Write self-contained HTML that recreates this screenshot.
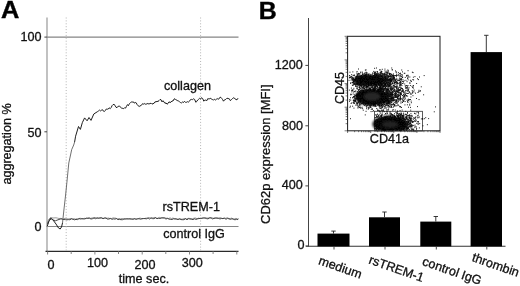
<!DOCTYPE html>
<html><head><meta charset="utf-8"><title>Figure</title>
<style>
html,body{margin:0;padding:0;background:#fff;}
body{width:520px;height:286px;overflow:hidden;}
svg{display:block;}
text{font-family:"Liberation Sans", Arial, Helvetica, sans-serif;fill:#111;stroke:#111;stroke-width:0.3px;}
.t{font-size:12.6px;}
.b{font-size:24.4px;font-weight:bold;fill:#000;stroke:#000;stroke-width:0.4px;}
</style></head><body>
<svg width="520" height="286" viewBox="0 0 520 286">
<rect width="520" height="286" fill="#fff"/>

<text class="b" transform="translate(1.1,18.1) scale(1.04,1)">A</text>
<line x1="47" y1="17.5" x2="47" y2="252" stroke="#8f8f8f" stroke-width="1.1"/>
<line x1="44.4" y1="37.1" x2="47" y2="37.1" stroke="#444" stroke-width="1"/>
<line x1="44.4" y1="131.8" x2="47" y2="131.8" stroke="#444" stroke-width="1"/>
<line x1="46.5" y1="37.1" x2="238.5" y2="37.1" stroke="#858585" stroke-width="1.1"/>
<line x1="46.5" y1="226.5" x2="238.5" y2="226.5" stroke="#858585" stroke-width="1.05"/>
<line x1="45.5" y1="251.3" x2="238.5" y2="251.3" stroke="#2a2a2a" stroke-width="1.35"/>
<line x1="47.6" y1="251.3" x2="47.6" y2="254.5" stroke="#777" stroke-width="0.9"/>
<line x1="71.2" y1="251.3" x2="71.2" y2="254.0" stroke="#777" stroke-width="0.9"/>
<line x1="94.9" y1="251.3" x2="94.9" y2="254.5" stroke="#777" stroke-width="0.9"/>
<line x1="118.5" y1="251.3" x2="118.5" y2="254.0" stroke="#777" stroke-width="0.9"/>
<line x1="142.2" y1="251.3" x2="142.2" y2="254.5" stroke="#777" stroke-width="0.9"/>
<line x1="165.8" y1="251.3" x2="165.8" y2="254.0" stroke="#777" stroke-width="0.9"/>
<line x1="189.5" y1="251.3" x2="189.5" y2="254.5" stroke="#777" stroke-width="0.9"/>
<line x1="213.1" y1="251.3" x2="213.1" y2="254.0" stroke="#777" stroke-width="0.9"/>
<line x1="236.8" y1="251.3" x2="236.8" y2="254.5" stroke="#777" stroke-width="0.9"/>
<line x1="66.2" y1="17.5" x2="66.2" y2="251" stroke="#b4b4b4" stroke-width="1" stroke-dasharray="1 1.9"/>
<line x1="200.6" y1="17.5" x2="200.6" y2="251" stroke="#b4b4b4" stroke-width="1" stroke-dasharray="1 1.9"/>
<text class="t" x="41.5" y="41.1" text-anchor="end">100</text>
<text class="t" x="41.5" y="136.6" text-anchor="end">50</text>
<text class="t" x="41.5" y="230.6" text-anchor="end">0</text>
<text class="t" transform="translate(11.3,144) rotate(-90)" text-anchor="middle">aggregation %</text>
<text class="t" x="51" y="269.4" text-anchor="middle">0</text>
<text class="t" x="97.5" y="266.6" text-anchor="middle">100</text>
<text class="t" x="145" y="269.4" text-anchor="middle">200</text>
<text class="t" x="192.2" y="266.6" text-anchor="middle">300</text>
<text class="t" x="144" y="283.4" text-anchor="middle">time sec.</text>
<text class="t" x="164" y="89.7">collagen</text>
<text class="t" x="162.6" y="211.4">rsTREM-1</text>
<text class="t" x="163.2" y="237.5">control IgG</text>
<polyline fill="none" stroke="#1e1e1e" stroke-width="1" stroke-linejoin="round" points="47.3,226.0 49.0,221.0 50.6,218.0 53.0,220.0 56.0,224.0 58.5,228.0 60.2,229.0 61.5,227.0 62.5,223.0"/>
<polyline fill="none" stroke="#4a4a4a" stroke-width="0.8" stroke-linejoin="round" points="62.5,223.0 64.0,209.0 65.6,195.0 66.9,182.3 68.8,163.0 71.7,149.6 73.7,145.0 74.6,142.0"/>
<polyline fill="none" stroke="#1e1e1e" stroke-width="1" stroke-linejoin="round" points="74.6,142.0 75.6,136.2 78.5,126.5 80.4,129.4 82.3,122.7 84.6,117.9 87.1,120.8 89.0,117.5 91.0,120.4 93.8,114.0 97.7,111.5 98.7,110.8 99.6,110.1 100.5,110.9 101.5,110.2 102.5,109.7 103.4,111.1 104.4,111.5 105.4,110.4 106.3,109.0 107.3,109.2 108.3,109.0 109.2,107.8 110.2,108.7 111.2,107.5 112.1,105.6 113.0,104.6 114.0,104.4 115.0,105.3 116.0,107.3 117.0,107.7 117.9,106.4 118.9,106.2 119.8,106.3 120.8,107.2 121.8,108.5 122.7,108.3 123.7,108.7 124.6,107.7 125.6,108.1 126.5,106.3 127.5,104.6 128.4,105.7 129.4,103.7 130.4,102.7 131.3,102.0 132.3,102.1 133.3,101.8 134.2,103.1 135.2,102.5 136.2,102.8 137.2,104.7 138.2,105.8 139.2,106.5 140.1,105.8 141.0,105.7 142.0,104.2 142.9,103.7 143.8,104.2 144.8,103.5 145.8,104.4 146.9,103.8 147.9,103.5 148.9,104.0 149.9,103.6 151.0,103.2 152.0,104.2 153.0,103.5 154.0,103.4 155.0,101.8 156.0,101.9 157.0,101.3 158.0,101.5 159.0,100.6 160.0,99.5 161.0,99.7 162.0,101.9 163.0,100.7 164.0,102.0 165.0,103.4 166.0,102.8 167.0,104.2 168.0,103.5 169.0,101.8 170.0,102.5 171.0,102.1 172.0,101.0 173.0,101.0 174.0,99.1 175.0,98.8 175.9,99.8 176.8,100.2 177.8,100.8 178.7,101.1 179.6,101.8 180.6,102.6 181.5,102.9 182.5,102.0 183.5,102.5 184.4,101.3 185.4,102.3 186.4,102.3 187.4,101.7 188.4,102.1 189.4,101.3 190.5,99.6 191.5,99.4 192.5,99.6 193.5,98.8 194.7,99.5 195.8,102.3 196.8,101.4 197.7,100.0 198.7,99.2 199.6,98.3 200.6,99.1 201.5,97.7 202.7,98.6 203.8,101.2 204.8,100.2 205.8,100.1 206.8,100.7 207.8,98.6 208.8,98.9 209.8,98.7 210.8,98.2 211.7,99.4 212.6,99.6 213.6,100.1 214.5,99.2 215.4,100.0 216.3,99.3 217.2,98.6 218.2,99.2 219.1,98.8 220.0,97.2 220.9,97.4 221.8,98.5 222.6,99.6 223.5,101.2 224.4,99.9 225.2,99.7 226.1,99.1 227.0,98.2 228.1,98.5 229.3,98.8 230.4,100.7 231.5,99.5 232.7,98.4 233.8,97.7 234.9,98.7 236.0,99.5 237.0,99.8 238.0,98.2"/>
<polyline fill="none" stroke="#8c8c8c" stroke-width="0.9" points="47.3,223.0 48.5,219.5 50.6,217.5 53.0,218.0 56.0,217.8 57.5,218.1 59.0,218.5 60.5,218.4 62.0,218.7 63.5,218.8 65.0,218.3 66.5,218.3 68.0,219.1 69.5,218.6 71.0,218.5 72.5,219.3 74.0,218.7 75.5,219.1 77.0,218.7 78.5,218.8 80.0,218.2 81.5,218.6 83.0,218.8 84.5,218.3 86.0,218.5 87.5,218.3 89.0,217.6 90.5,218.3 92.0,218.0 93.5,217.7 95.0,217.4 96.5,218.2 98.0,217.8 99.5,218.0 101.0,218.2 102.5,218.1 104.0,218.3 105.5,217.8 107.0,218.3 108.5,218.0 110.0,218.6 111.5,218.6 113.0,217.9 114.5,218.0 116.0,218.2 117.5,219.0 119.0,218.5 120.5,218.8 122.0,218.5 123.5,218.8 125.0,218.7 126.5,218.6 128.0,218.9 129.5,218.9 131.0,219.2 132.5,218.9 134.0,219.1 135.5,219.0 137.0,219.0 138.5,218.6 140.0,218.0 141.5,218.7 143.0,218.7 144.5,218.5 146.0,218.1 147.5,218.2 149.0,217.6 150.5,218.2 152.0,217.9 153.5,217.6 155.0,217.4 156.5,218.2 158.0,218.3 159.5,217.4 161.0,218.2 162.5,217.9 164.0,217.7 165.5,217.9 167.0,218.4 168.5,218.6 170.0,217.9 171.5,218.5 173.0,218.0 174.5,218.8 176.0,218.5 177.5,219.1 179.0,219.2 180.5,218.8 182.0,219.3 183.5,218.6 185.0,218.4 186.5,218.9 188.0,218.3 189.5,218.4 191.0,218.6 192.5,218.7 194.0,218.2 195.5,218.0 197.0,218.7 198.5,218.1 200.0,218.6 201.5,218.5 203.0,217.9 204.5,217.9 206.0,217.9 207.5,218.0 209.0,217.9 210.5,217.9 212.0,217.9 213.5,218.2 215.0,217.8 216.5,217.8 218.0,218.1 219.5,217.7 221.0,217.8 222.5,218.6 224.0,218.2 225.5,218.3 227.0,217.9 228.5,218.3 230.0,218.6 231.5,218.1 233.0,218.8 234.5,218.8 236.0,218.3 237.5,218.9 239.0,218.8"/>
<polyline fill="none" stroke="#333" stroke-width="0.9" points="47.5,224.0 49.0,220.5 51.5,218.8 53.5,220.0 55.4,220.8 58.0,219.8 61.0,218.8 62.5,219.3 64.0,219.5 65.5,219.6 67.0,219.8 68.5,219.6 70.0,219.8 71.5,218.7 73.0,219.2 74.5,219.8 76.0,219.4 77.5,219.6 79.0,218.6 80.5,219.0 82.0,218.7 83.5,218.9 85.0,218.9 86.5,218.1 88.0,218.3 89.5,218.3 91.0,219.0 92.5,218.7 94.0,218.0 95.5,218.7 97.0,217.9 98.5,218.4 100.0,217.9 101.5,217.7 103.0,218.8 104.5,218.0 106.0,218.1 107.5,219.1 109.0,219.0 110.5,218.4 112.0,219.3 113.5,218.9 115.0,219.1 116.5,218.6 118.0,219.6 119.5,219.4 121.0,219.7 122.5,219.7 124.0,219.0 125.5,219.1 127.0,218.9 128.5,218.9 130.0,218.8 131.5,219.0 133.0,219.3 134.5,218.5 136.0,219.3 137.5,218.8 139.0,218.7 140.5,219.2 142.0,218.7 143.5,218.5 145.0,218.6 146.5,218.8 148.0,217.9 149.5,219.0 151.0,217.8 152.5,218.6 154.0,218.7 155.5,217.7 157.0,218.7 158.5,218.2 160.0,218.5 161.5,217.8 163.0,217.9 164.5,218.1 166.0,219.1 167.5,218.3 169.0,219.1 170.5,219.4 172.0,219.5 173.5,218.8 175.0,218.9 176.5,219.2 178.0,219.5 179.5,218.8 181.0,219.6 182.5,219.7 184.0,219.7 185.5,218.7 187.0,219.8 188.5,218.7 190.0,219.0 191.5,219.3 193.0,219.6 194.5,218.8 196.0,219.4 197.5,218.9 199.0,218.5 200.5,218.4 202.0,218.2 203.5,218.0 205.0,218.0 206.5,218.6 208.0,218.9 209.5,217.9 211.0,217.8 212.5,218.9 214.0,218.4 215.5,218.2 217.0,218.1 218.5,218.5 220.0,218.9 221.5,218.5 223.0,218.5 224.5,218.2 226.0,219.3 227.5,218.3 229.0,218.9 230.5,219.4 232.0,218.7 233.5,219.4 235.0,219.8 236.5,219.4 238.0,219.6"/>
<text class="b" transform="translate(258.8,18.5) scale(1.02,1)">B</text>
<line x1="308.5" y1="18" x2="308.5" y2="246.5" stroke="#444" stroke-width="1"/>
<line x1="306" y1="246.2" x2="505.5" y2="246.2" stroke="#333" stroke-width="1.1"/>
<line x1="305.4" y1="65.4" x2="308.4" y2="65.4" stroke="#444" stroke-width="1"/>
<text class="t" x="302.8" y="69.3" text-anchor="end">1200</text>
<line x1="305.4" y1="125.8" x2="308.4" y2="125.8" stroke="#444" stroke-width="1"/>
<text class="t" x="303.0" y="130.0" text-anchor="end">800</text>
<line x1="305.4" y1="185.9" x2="308.4" y2="185.9" stroke="#444" stroke-width="1"/>
<text class="t" x="302.8" y="188.8" text-anchor="end">400</text>
<line x1="305.4" y1="246" x2="308.4" y2="246" stroke="#444" stroke-width="1"/>
<text class="t" x="304.5" y="248.5" text-anchor="end">0</text>
<text class="t" style="font-size:12.95px" transform="translate(270.4,154.2) rotate(-90)" text-anchor="middle">CD62p expression [MFI]</text>
<rect x="317.5" y="233.6" width="32.0" height="12.8" fill="#000"/>
<line x1="333.5" y1="233.6" x2="333.5" y2="231.1" stroke="#222" stroke-width="0.9"/>
<line x1="331.3" y1="231.1" x2="335.7" y2="231.1" stroke="#222" stroke-width="0.9"/>
<line x1="334.0" y1="246.5" x2="334.0" y2="249.5" stroke="#333" stroke-width="0.9"/>
<rect x="369" y="217.3" width="31.0" height="29.1" fill="#000"/>
<line x1="384.5" y1="217.3" x2="384.5" y2="212" stroke="#222" stroke-width="0.9"/>
<line x1="382.3" y1="212" x2="386.7" y2="212" stroke="#222" stroke-width="0.9"/>
<line x1="385.0" y1="246.5" x2="385.0" y2="249.5" stroke="#333" stroke-width="0.9"/>
<rect x="420.3" y="221.6" width="31.0" height="24.8" fill="#000"/>
<line x1="435.8" y1="221.6" x2="435.8" y2="216.5" stroke="#222" stroke-width="0.9"/>
<line x1="433.6" y1="216.5" x2="438.0" y2="216.5" stroke="#222" stroke-width="0.9"/>
<line x1="436.3" y1="246.5" x2="436.3" y2="249.5" stroke="#333" stroke-width="0.9"/>
<rect x="470.6" y="52.1" width="31.4" height="194.3" fill="#000"/>
<line x1="486.3" y1="52.1" x2="486.3" y2="35.3" stroke="#222" stroke-width="0.9"/>
<line x1="484.1" y1="35.3" x2="488.5" y2="35.3" stroke="#222" stroke-width="0.9"/>
<line x1="486.8" y1="246.5" x2="486.8" y2="249.5" stroke="#333" stroke-width="0.9"/>
<text class="t" transform="translate(317.8,263.9) rotate(19.2)">medium</text>
<text class="t" transform="translate(368,263.2) rotate(19.2)">rsTREM-1</text>
<text class="t" transform="translate(421.6,264.8) rotate(19.2)">control IgG</text>
<text class="t" transform="translate(471.2,260.8) rotate(19.2)">thrombin</text>
<rect x="347.6" y="36.3" width="92.4" height="94.5" fill="none" stroke="#1a1a1a" stroke-width="1"/>
<rect x="374.5" y="111.3" width="48" height="19.7" fill="none" stroke="#333" stroke-width="0.8"/>
<text class="t" transform="translate(343.6,88) rotate(-90)" text-anchor="middle">CD45</text>
<text class="t" x="369.8" y="142.9">CD41a</text>
<defs><filter id="bl" x="-20%" y="-20%" width="140%" height="140%"><feGaussianBlur stdDeviation="1.2"/></filter><clipPath id="cp"><rect x="348" y="37" width="91.5" height="93.6"/></clipPath></defs>
<g clip-path="url(#cp)"><g filter="url(#bl)">
<ellipse cx="367" cy="80.3" rx="14" ry="5.4" fill="#0c0c0c"/>
<ellipse cx="371" cy="97" rx="16" ry="8.6" fill="#111"/>
<ellipse cx="389.5" cy="124" rx="17" ry="8.2" fill="#111"/>
</g></g>
<filter id="b2"><feGaussianBlur stdDeviation="0.3"/></filter>
<path filter="url(#b2)" stroke="#0a0a0a" stroke-width="1" fill="none" d="M356.6 81.6h.9M375.5 78.6h.9M355.7 80.1h.9M371.1 84.0h.9M356.7 75.9h.9M373.0 81.9h.9M380.0 83.6h.9M366.1 79.4h.9M388.8 79.3h.9M360.3 76.4h.9M367.8 80.8h.9M364.1 80.1h.9M369.3 82.7h.9M376.3 81.0h.9M351.8 82.7h.9M354.9 79.7h.9M354.5 80.3h.9M360.4 81.0h.9M395.1 80.1h.9M374.2 75.8h.9M364.6 82.6h.9M366.2 81.6h.9M367.9 76.9h.9M371.8 77.5h.9M382.9 78.6h.9M372.8 80.3h.9M375.1 78.3h.9M375.5 79.9h.9M377.7 82.4h.9M368.2 77.6h.9M373.5 81.9h.9M381.0 79.0h.9M371.7 82.0h.9M369.4 81.0h.9M368.5 78.3h.9M358.4 79.0h.9M372.0 85.4h.9M375.3 83.9h.9M373.6 82.7h.9M368.6 82.9h.9M382.1 79.2h.9M361.1 87.0h.9M369.1 83.6h.9M374.4 76.4h.9M387.7 86.3h.9M368.5 82.9h.9M368.1 77.3h.9M366.0 81.6h.9M376.5 82.7h.9M367.5 84.9h.9M360.5 83.0h.9M376.5 79.3h.9M351.8 77.2h.9M369.0 82.1h.9M380.2 76.9h.9M367.0 82.5h.9M365.7 72.2h.9M373.9 88.2h.9M375.5 77.2h.9M363.5 81.1h.9M388.2 82.4h.9M368.0 85.6h.9M366.3 86.6h.9M361.2 78.7h.9M373.1 85.1h.9M372.6 81.3h.9M351.5 77.9h.9M361.8 78.5h.9M372.0 79.2h.9M373.7 80.6h.9M364.2 80.7h.9M370.6 83.2h.9M362.9 79.5h.9M355.4 85.8h.9M379.3 79.7h.9M362.9 76.1h.9M368.4 81.0h.9M385.5 81.1h.9M360.4 72.0h.9M379.0 80.9h.9M353.3 80.9h.9M353.3 92.1h.9M376.5 82.2h.9M365.5 73.0h.9M365.9 75.0h.9M372.1 73.0h.9M359.3 84.4h.9M381.0 76.3h.9M354.0 83.3h.9M374.3 76.9h.9M361.1 77.9h.9M356.9 78.0h.9M377.6 82.6h.9M384.5 80.0h.9M365.8 77.0h.9M365.9 75.8h.9M351.9 82.7h.9M379.2 83.1h.9M378.3 81.2h.9M360.9 80.6h.9M363.8 76.5h.9M352.6 75.3h.9M367.0 80.8h.9M363.0 85.2h.9M368.5 82.3h.9M377.4 77.5h.9M350.3 82.9h.9M361.1 84.8h.9M369.9 83.7h.9M373.5 73.2h.9M373.1 78.0h.9M360.6 78.8h.9M373.5 83.3h.9M375.6 74.7h.9M362.0 72.2h.9M366.1 82.3h.9M360.5 81.1h.9M369.0 83.7h.9M360.0 77.5h.9M360.5 86.3h.9M376.3 79.9h.9M368.9 80.7h.9M368.7 79.6h.9M364.2 76.0h.9M361.5 85.9h.9M371.6 80.5h.9M365.2 80.5h.9M370.0 78.1h.9M368.7 81.1h.9M360.6 77.6h.9M358.5 76.7h.9M374.6 72.3h.9M364.7 78.2h.9M361.7 80.6h.9M376.6 80.6h.9M365.8 78.2h.9M365.9 83.4h.9M363.7 76.4h.9M356.3 76.5h.9M355.2 84.0h.9M370.0 79.5h.9M379.4 78.1h.9M373.4 83.0h.9M353.9 75.0h.9M359.1 83.4h.9M378.0 76.1h.9M375.9 79.0h.9M363.7 78.4h.9M364.2 74.1h.9M358.5 76.1h.9M371.2 87.4h.9M390.2 79.2h.9M352.4 78.9h.9M359.0 87.0h.9M371.9 77.8h.9M375.0 82.1h.9M353.2 78.5h.9M365.0 80.4h.9M368.1 79.1h.9M368.6 78.3h.9M359.4 85.5h.9M370.1 81.8h.9M353.4 79.7h.9M374.0 75.9h.9M376.3 79.0h.9M370.4 79.8h.9M368.9 84.4h.9M363.6 85.6h.9M360.4 77.1h.9M373.0 76.7h.9M363.9 83.4h.9M377.3 74.3h.9M371.3 86.7h.9M377.2 79.5h.9M361.9 79.3h.9M357.2 79.4h.9M365.4 79.8h.9M377.1 79.5h.9M354.6 83.9h.9M357.9 78.8h.9M365.9 79.1h.9M358.5 79.5h.9M385.6 78.2h.9M365.8 84.1h.9M373.3 82.9h.9M374.3 73.6h.9M359.7 80.7h.9M371.2 84.7h.9M371.0 79.5h.9M367.3 79.6h.9M369.1 82.6h.9M364.1 77.5h.9M359.7 84.0h.9M377.9 83.7h.9M374.3 83.1h.9M367.0 82.6h.9M358.1 79.6h.9M360.8 82.8h.9M362.1 79.9h.9M370.4 84.9h.9M360.3 77.1h.9M373.9 76.5h.9M370.8 78.4h.9M366.1 74.1h.9M373.1 78.6h.9M359.4 87.4h.9M373.1 92.2h.9M370.5 79.1h.9M367.9 85.8h.9M366.8 81.8h.9M371.4 77.2h.9M368.1 78.6h.9M356.4 83.3h.9M372.7 80.6h.9M359.3 73.5h.9M371.1 80.0h.9M352.7 80.1h.9M354.1 80.2h.9M368.2 81.5h.9M368.8 80.9h.9M357.3 79.0h.9M362.7 79.5h.9M369.3 82.4h.9M380.9 71.6h.9M370.4 79.6h.9M386.3 83.5h.9M352.9 81.7h.9M362.6 83.7h.9M358.0 80.0h.9M365.9 80.0h.9M362.0 74.1h.9M370.9 83.7h.9M366.4 76.8h.9M368.7 82.2h.9M365.5 80.3h.9M379.0 76.5h.9M362.3 73.8h.9M361.1 77.8h.9M358.8 77.9h.9M382.3 79.6h.9M366.0 87.8h.9M366.5 74.4h.9M370.4 77.1h.9M380.9 76.1h.9M362.1 74.8h.9M367.8 76.8h.9M366.4 79.0h.9M361.8 83.5h.9M375.0 80.5h.9M359.3 76.7h.9M369.3 88.4h.9M363.1 77.6h.9M361.1 76.6h.9M358.7 79.6h.9M379.2 80.3h.9M362.7 74.8h.9M368.8 80.2h.9M356.6 76.6h.9M366.6 83.7h.9M372.3 81.0h.9M364.3 81.4h.9M366.9 87.7h.9M357.4 79.0h.9M377.8 79.4h.9M379.1 80.2h.9M368.2 79.0h.9M355.3 77.0h.9M385.8 82.5h.9M372.1 83.5h.9M371.8 83.8h.9M364.7 79.5h.9M375.4 79.1h.9M355.7 79.5h.9M362.4 82.4h.9M360.9 76.7h.9M364.2 85.6h.9M366.6 80.8h.9M367.1 81.3h.9M374.9 85.0h.9M353.0 84.9h.9M367.0 79.2h.9M387.4 79.7h.9M383.5 83.6h.9M358.2 82.0h.9M373.3 79.9h.9M365.4 76.5h.9M382.5 79.5h.9M363.7 79.3h.9M360.3 77.7h.9M367.8 81.4h.9M362.7 80.0h.9M355.2 82.1h.9M360.6 81.0h.9M359.3 78.5h.9M368.8 76.2h.9M388.0 80.2h.9M366.4 77.8h.9M380.6 85.0h.9M369.5 75.6h.9M362.7 82.4h.9M362.6 76.3h.9M356.9 77.7h.9M367.1 78.1h.9M367.2 89.8h.9M382.1 76.8h.9M369.9 80.6h.9M365.8 83.8h.9M364.2 79.2h.9M363.8 80.0h.9M377.9 82.9h.9M355.6 78.8h.9M360.2 83.1h.9M368.9 83.3h.9M366.5 73.8h.9M370.8 81.1h.9M371.3 75.9h.9M367.7 78.0h.9M361.2 81.5h.9M370.0 77.3h.9M352.4 71.9h.9M362.1 84.1h.9M366.5 72.6h.9M359.7 81.7h.9M381.2 84.3h.9M370.1 81.0h.9M358.0 78.8h.9M364.2 77.7h.9M367.5 79.0h.9M369.9 85.2h.9M373.3 81.7h.9M365.0 75.1h.9M366.0 82.1h.9M358.4 84.6h.9M364.2 81.6h.9M364.2 76.0h.9M384.6 76.4h.9M374.8 78.4h.9M369.4 77.6h.9M363.5 83.4h.9M383.5 77.4h.9M367.1 83.5h.9M361.6 82.7h.9M360.3 82.4h.9M370.7 84.4h.9M370.1 76.2h.9M372.6 76.6h.9M373.4 85.4h.9M372.1 78.4h.9M377.1 80.9h.9M356.4 79.1h.9M379.1 79.3h.9M368.0 79.1h.9M352.7 78.6h.9M370.0 81.0h.9M365.5 73.0h.9M377.4 82.7h.9M375.7 84.7h.9M363.2 78.2h.9M369.7 86.0h.9M352.7 79.5h.9M360.9 82.2h.9M379.4 79.3h.9M356.5 80.5h.9M364.6 75.1h.9M374.5 78.5h.9M372.8 75.8h.9M376.3 75.4h.9M376.0 74.1h.9M378.7 79.0h.9M353.8 79.5h.9M369.9 76.9h.9M362.8 81.2h.9M365.6 69.9h.9M363.3 81.8h.9M369.5 83.7h.9M361.1 89.0h.9M373.8 81.4h.9M376.2 83.5h.9M367.9 78.2h.9M375.7 81.7h.9M350.9 76.5h.9M371.0 80.7h.9M369.4 82.5h.9M368.2 85.7h.9M362.0 78.9h.9M369.7 82.8h.9M373.7 85.4h.9M362.9 84.3h.9M371.0 76.8h.9M365.8 87.4h.9M373.7 78.7h.9M361.0 80.6h.9M386.6 82.8h.9M369.7 77.1h.9M356.9 79.6h.9M363.0 90.5h.9M363.6 78.2h.9M376.6 80.6h.9M356.5 84.7h.9M364.3 75.8h.9M369.7 82.0h.9M364.1 82.7h.9M374.0 77.3h.9M349.5 72.2h.9M365.9 84.5h.9M375.5 85.0h.9M382.8 80.4h.9M376.0 75.1h.9M372.9 81.6h.9M366.2 78.8h.9M357.5 80.8h.9M377.9 79.1h.9M371.5 78.0h.9M369.2 76.9h.9M370.2 79.6h.9M369.7 78.2h.9M357.0 79.2h.9M375.8 85.7h.9M364.2 83.0h.9M373.4 81.6h.9M353.8 81.4h.9M358.8 84.3h.9M373.7 82.4h.9M372.9 76.0h.9M375.2 80.6h.9M365.4 77.9h.9M358.3 78.8h.9M393.2 81.0h.9M368.8 78.1h.9M361.8 78.4h.9M359.5 83.3h.9M364.7 83.2h.9M357.2 83.5h.9M366.8 82.6h.9M366.1 77.3h.9M377.3 78.8h.9M365.7 77.3h.9M368.7 79.0h.9M369.4 81.5h.9M361.1 75.5h.9M370.7 83.4h.9M372.9 76.4h.9M372.1 81.6h.9M369.4 81.8h.9M364.2 81.0h.9M374.9 78.6h.9M354.8 79.9h.9M368.7 74.0h.9M361.2 82.3h.9M365.7 80.6h.9M356.3 83.4h.9M381.9 79.6h.9M360.8 76.4h.9M374.6 80.7h.9M360.2 84.4h.9M373.5 82.4h.9M352.0 79.9h.9M372.3 76.1h.9M374.9 85.2h.9M375.8 77.8h.9M361.0 83.5h.9M375.5 84.5h.9M377.2 80.0h.9M363.5 74.0h.9M373.7 88.0h.9M363.1 78.7h.9M372.5 81.6h.9M355.4 77.9h.9M357.7 87.2h.9M360.9 83.2h.9M383.3 86.7h.9M379.1 85.8h.9M356.5 79.1h.9M360.8 79.3h.9M389.3 74.6h.9M371.7 76.1h.9M378.4 84.7h.9M362.6 87.3h.9M367.6 84.7h.9M369.6 78.4h.9M363.8 79.9h.9M372.2 80.7h.9M387.1 79.6h.9M363.0 77.9h.9M360.4 75.4h.9M358.6 83.4h.9M367.5 79.7h.9M370.0 83.9h.9M372.2 82.9h.9M362.2 79.4h.9M360.4 80.0h.9M360.1 79.0h.9M365.5 79.6h.9M364.7 78.6h.9M378.1 79.1h.9M358.4 81.0h.9M357.7 76.7h.9M367.7 74.6h.9M375.8 74.6h.9M359.4 82.3h.9M350.1 77.3h.9M356.8 79.6h.9M350.2 83.3h.9M365.8 81.3h.9M364.2 73.1h.9M365.7 75.7h.9M367.1 77.4h.9M364.3 79.6h.9M373.6 82.9h.9M358.5 80.2h.9M379.4 82.0h.9M360.8 79.9h.9M364.0 83.5h.9M367.3 81.6h.9M385.8 75.6h.9M358.4 74.4h.9M353.5 83.2h.9M369.5 85.8h.9M350.2 77.3h.9M379.3 83.8h.9M374.5 83.3h.9M367.3 80.3h.9M367.3 83.2h.9M365.6 81.4h.9M379.4 76.5h.9M360.6 82.2h.9M364.8 79.8h.9M384.8 81.7h.9M363.5 84.0h.9M388.4 76.5h.9M361.3 80.7h.9M361.6 87.7h.9M371.5 78.9h.9M371.2 77.6h.9M361.9 80.7h.9M387.3 72.6h.9M370.6 84.9h.9M373.3 86.8h.9M370.8 80.8h.9M365.9 77.4h.9M380.9 76.3h.9M365.9 78.5h.9M360.3 72.7h.9M363.8 80.8h.9M368.2 83.2h.9M365.6 78.1h.9M369.6 82.6h.9M359.3 75.1h.9M358.3 83.9h.9M375.5 77.3h.9M367.9 83.2h.9M378.3 78.1h.9M365.0 85.1h.9M387.5 85.5h.9M357.3 81.8h.9M364.5 80.1h.9M361.4 78.7h.9M366.9 86.4h.9M372.9 81.8h.9M367.2 77.7h.9M365.1 84.5h.9M374.1 87.0h.9M369.2 80.2h.9M353.2 81.7h.9M352.3 85.5h.9M361.6 80.3h.9M355.5 78.6h.9M359.1 84.1h.9M369.1 76.3h.9M350.6 80.1h.9M362.9 76.5h.9M372.0 79.7h.9M367.9 78.3h.9M362.2 78.7h.9M353.4 82.4h.9M370.4 74.4h.9M367.9 84.2h.9M369.0 84.7h.9M364.7 80.3h.9M356.0 77.2h.9M351.5 77.3h.9M369.1 82.1h.9M376.9 80.7h.9M358.6 81.8h.9M365.8 86.4h.9M383.6 83.6h.9M357.3 78.5h.9M368.6 77.9h.9M371.5 82.6h.9M374.1 81.1h.9M359.5 77.4h.9M366.0 84.8h.9M380.4 83.6h.9M370.1 82.6h.9M374.0 84.7h.9M374.3 75.1h.9M375.1 81.6h.9M363.1 82.1h.9M369.5 80.1h.9M352.6 80.7h.9M371.7 80.1h.9M353.5 81.9h.9M373.1 80.9h.9M370.6 79.1h.9M361.4 82.1h.9M364.0 80.9h.9M394.7 82.7h.9M368.2 74.8h.9M367.8 82.9h.9M361.0 79.5h.9M361.9 82.6h.9M378.6 79.8h.9M375.4 81.2h.9M365.3 79.3h.9M359.8 84.7h.9M374.5 76.9h.9M374.2 77.8h.9M354.2 84.4h.9M356.1 84.3h.9M368.7 83.4h.9M371.3 84.2h.9M370.0 82.3h.9M369.1 84.0h.9M363.7 83.8h.9M379.8 80.1h.9M370.7 78.6h.9M364.5 81.2h.9M364.1 77.3h.9M366.7 81.0h.9M369.7 82.7h.9M351.9 85.1h.9M365.5 77.7h.9M363.8 81.8h.9M374.4 79.1h.9M368.3 74.9h.9M368.4 79.9h.9M363.3 83.3h.9M382.2 83.8h.9M360.4 85.5h.9M364.2 80.2h.9M362.1 81.9h.9M371.7 80.8h.9M365.2 79.8h.9M363.6 83.6h.9M362.6 79.8h.9M365.2 77.8h.9M365.1 75.3h.9M370.5 82.1h.9M364.5 85.6h.9M360.0 82.2h.9M371.1 78.5h.9M365.0 83.3h.9M367.5 81.3h.9M378.9 81.0h.9M352.8 77.8h.9M374.1 79.9h.9M357.9 73.6h.9M369.7 85.4h.9M356.4 73.0h.9M371.2 78.5h.9M364.5 79.2h.9M359.4 81.8h.9M374.8 81.5h.9M362.3 83.8h.9M366.1 82.3h.9M359.1 82.5h.9M373.3 84.7h.9M367.2 81.8h.9M362.1 83.3h.9M373.6 83.9h.9M363.8 76.2h.9M366.4 79.6h.9M360.7 82.3h.9M375.0 81.6h.9M376.4 81.6h.9M358.8 78.3h.9M364.0 82.6h.9M374.8 80.8h.9M375.5 77.5h.9M366.1 85.3h.9M370.7 83.8h.9M351.2 74.7h.9M359.8 83.7h.9M380.7 78.2h.9M358.8 76.9h.9M359.5 82.2h.9M364.4 86.6h.9M373.1 78.0h.9M369.0 79.8h.9M373.6 83.3h.9M364.1 83.3h.9M371.8 80.0h.9M369.2 82.6h.9M364.4 78.0h.9M377.6 80.3h.9M362.1 81.9h.9M354.7 80.5h.9M355.6 78.9h.9M352.1 77.9h.9M374.5 79.7h.9M356.9 86.1h.9M361.8 85.3h.9M362.6 75.4h.9M382.4 78.9h.9M373.4 84.3h.9M356.1 80.6h.9M362.2 82.3h.9M366.9 76.1h.9M367.5 82.9h.9M364.6 82.2h.9M362.6 80.1h.9M370.0 80.8h.9M377.6 83.5h.9M374.1 82.7h.9M368.3 76.4h.9M375.9 86.1h.9M368.9 79.5h.9M366.8 84.3h.9M369.4 77.1h.9M365.6 77.8h.9M365.4 77.3h.9M359.8 85.3h.9M375.8 75.0h.9M358.9 78.8h.9M363.8 75.7h.9M374.4 75.0h.9M372.8 82.6h.9M364.0 78.1h.9M367.6 80.8h.9M349.6 76.2h.9M371.5 80.0h.9M363.6 77.0h.9M361.2 77.8h.9M390.3 76.2h.9M379.8 81.9h.9M368.8 81.0h.9M363.9 85.7h.9M371.3 80.2h.9M366.1 81.0h.9M357.6 79.3h.9M361.9 82.4h.9M372.1 74.1h.9M365.2 83.6h.9M356.3 76.4h.9M375.4 79.9h.9M363.3 76.3h.9M368.5 78.5h.9M368.8 81.7h.9M372.9 79.3h.9M362.7 80.4h.9M366.3 80.9h.9M362.7 79.5h.9M362.2 78.4h.9M368.4 84.2h.9M362.6 82.3h.9M369.9 80.7h.9M372.7 78.5h.9M371.8 81.3h.9M372.1 86.8h.9M358.2 80.6h.9M370.0 77.1h.9M377.1 81.8h.9M360.4 76.3h.9M363.6 88.2h.9M385.0 72.1h.9M351.9 82.5h.9M366.2 78.2h.9M372.1 80.6h.9M369.5 81.2h.9M358.0 84.7h.9M363.2 84.1h.9M372.8 80.5h.9M368.2 80.2h.9M351.7 79.2h.9M370.6 75.0h.9M354.6 83.9h.9M373.8 75.2h.9M370.9 80.2h.9M375.2 79.2h.9M365.2 77.8h.9M368.6 79.9h.9M361.6 79.2h.9M360.8 82.4h.9M358.4 75.1h.9M359.0 83.9h.9M362.8 82.5h.9M373.2 78.6h.9M373.4 82.0h.9M366.7 78.0h.9M366.5 76.0h.9M364.7 78.4h.9M370.7 81.5h.9M361.7 83.2h.9M377.0 80.5h.9M360.9 82.0h.9M371.9 87.0h.9M360.9 85.4h.9M386.6 86.6h.9M368.7 83.7h.9M365.5 78.3h.9M365.1 85.4h.9M374.1 79.3h.9M370.2 83.2h.9M371.8 80.2h.9M361.5 77.8h.9M363.4 78.5h.9M353.8 75.6h.9M374.4 76.5h.9M356.0 80.2h.9M379.2 84.6h.9M363.6 76.8h.9M362.5 77.2h.9M362.4 81.9h.9M358.1 77.7h.9M364.8 80.2h.9M360.6 77.6h.9M357.5 77.8h.9M371.4 79.5h.9M366.4 77.4h.9M364.9 70.1h.9M353.0 84.2h.9M385.1 87.7h.9M360.8 80.4h.9M373.6 76.1h.9M381.8 77.9h.9M370.0 76.4h.9M370.1 80.3h.9M376.2 76.4h.9M366.9 86.5h.9M356.9 81.5h.9M370.7 78.6h.9M364.7 85.1h.9M376.7 82.2h.9M369.3 76.5h.9M367.8 86.4h.9M375.9 75.7h.9M349.4 78.0h.9M368.4 78.4h.9M364.4 81.5h.9M374.6 81.0h.9M377.6 75.5h.9M371.0 81.7h.9M354.4 84.6h.9M353.4 75.4h.9M389.7 84.7h.9M370.2 84.9h.9M376.8 76.5h.9M371.1 85.1h.9M365.6 80.6h.9M363.1 82.8h.9M362.3 78.3h.9M356.6 77.1h.9M368.9 81.9h.9M363.7 76.7h.9M369.9 81.5h.9M377.9 78.6h.9M363.5 82.1h.9M380.0 80.1h.9M366.3 77.1h.9M363.8 83.5h.9M374.3 84.1h.9M353.0 83.2h.9M359.1 82.3h.9M359.5 84.7h.9M368.0 84.8h.9M363.2 87.0h.9M363.2 86.8h.9M362.8 76.9h.9M374.7 78.9h.9M366.5 75.7h.9M364.1 80.7h.9M361.0 81.6h.9M363.5 85.3h.9M364.0 78.1h.9M363.2 81.3h.9M372.1 78.7h.9M360.2 81.8h.9M374.1 74.3h.9M358.0 78.0h.9M381.7 84.5h.9M373.9 82.0h.9M357.4 84.2h.9M363.2 77.6h.9M383.7 75.3h.9M378.9 81.0h.9M359.1 80.9h.9M359.8 80.9h.9M361.5 76.2h.9M389.9 78.6h.9M375.5 80.1h.9M372.8 76.0h.9M358.1 69.0h.9M375.7 81.8h.9M356.9 83.2h.9M372.1 90.4h.9M369.1 83.5h.9M372.3 83.0h.9M366.8 78.9h.9M373.1 84.6h.9M357.0 76.4h.9M366.7 86.5h.9M365.2 74.5h.9M374.0 82.9h.9M383.8 81.0h.9M384.0 77.8h.9M374.8 80.8h.9M356.8 79.4h.9M378.5 84.2h.9M363.8 84.1h.9M374.8 83.4h.9M369.5 81.4h.9M359.9 80.1h.9M368.1 77.8h.9M364.6 80.9h.9M368.9 84.0h.9M358.2 79.0h.9M369.4 79.0h.9M369.9 78.7h.9M377.2 79.5h.9M357.3 82.9h.9M381.4 73.7h.9M365.9 80.6h.9M375.9 85.5h.9M365.7 75.0h.9M372.8 83.8h.9M371.0 80.6h.9M360.1 88.7h.9M356.7 75.1h.9M375.5 81.3h.9M372.8 81.5h.9M381.5 85.2h.9M362.3 83.8h.9M356.9 74.5h.9M377.4 78.8h.9M348.6 80.3h.9M361.4 82.1h.9M366.6 77.7h.9M360.9 83.0h.9M359.1 80.8h.9M358.6 81.9h.9M382.4 82.3h.9M376.6 81.9h.9M358.8 79.3h.9M367.7 81.8h.9M361.9 82.4h.9M360.9 80.5h.9M367.0 76.4h.9M375.7 80.5h.9M368.0 80.2h.9M349.0 75.5h.9M359.4 83.7h.9M362.1 82.4h.9M358.2 77.4h.9M363.0 84.0h.9M352.8 79.7h.9M370.5 80.8h.9M366.9 83.0h.9M369.5 76.9h.9M372.5 77.6h.9M364.1 85.3h.9M388.0 85.3h.9M370.7 77.7h.9M360.5 86.0h.9M369.9 75.6h.9M380.5 82.3h.9M378.4 81.7h.9M365.8 79.7h.9M380.0 78.0h.9M366.2 80.1h.9M366.3 76.8h.9M356.6 71.5h.9M369.9 79.6h.9M368.8 76.7h.9M367.1 77.0h.9M358.4 81.5h.9M372.5 82.3h.9M366.7 79.0h.9M379.0 84.6h.9M361.6 76.6h.9M370.2 81.4h.9M359.2 88.1h.9M349.1 77.5h.9M369.1 83.7h.9M351.2 78.8h.9M379.4 85.1h.9M364.9 80.4h.9M359.5 81.7h.9M358.1 73.4h.9M354.0 80.5h.9M355.7 84.1h.9M378.0 83.7h.9M372.7 84.2h.9M369.3 83.3h.9M371.1 83.0h.9M358.4 78.1h.9M358.5 83.2h.9M371.4 77.6h.9M358.6 78.3h.9M374.5 79.9h.9M365.0 78.0h.9M366.0 85.8h.9M361.2 79.1h.9M381.6 82.8h.9M357.3 84.1h.9M356.3 82.2h.9M374.9 78.3h.9M360.9 80.5h.9M367.1 78.7h.9M361.3 86.5h.9M379.8 81.5h.9M357.2 78.5h.9M364.6 82.0h.9M380.8 78.5h.9M368.3 78.9h.9M368.3 78.0h.9M370.3 84.3h.9M363.7 79.2h.9M368.0 75.8h.9M382.6 75.7h.9M364.0 77.3h.9M379.9 78.7h.9M362.7 86.8h.9M366.0 77.7h.9M367.0 81.0h.9M360.7 79.7h.9M365.3 82.8h.9M373.6 83.2h.9M366.0 83.1h.9M365.3 84.3h.9M370.5 78.9h.9M377.6 75.1h.9M358.8 77.6h.9M365.9 76.1h.9M356.8 73.9h.9M368.0 77.7h.9M385.8 83.0h.9M357.3 84.8h.9M368.0 84.0h.9M357.6 84.3h.9M376.5 78.9h.9M359.8 79.0h.9M369.3 88.6h.9M382.5 85.5h.9M365.2 79.2h.9M370.2 79.4h.9M363.1 79.6h.9M374.3 80.1h.9M369.1 79.4h.9M365.4 79.2h.9M377.9 81.1h.9M379.8 79.7h.9M376.2 75.6h.9M363.6 80.1h.9M361.6 79.9h.9M359.2 79.8h.9M361.4 80.3h.9M364.5 76.9h.9M363.6 80.4h.9M356.2 80.7h.9M377.8 79.6h.9M371.8 82.5h.9M360.2 84.8h.9M388.5 76.8h.9M385.4 77.9h.9M379.5 74.1h.9M376.8 80.8h.9M356.1 77.5h.9M358.1 77.3h.9M370.3 79.7h.9M371.1 80.6h.9M381.5 74.0h.9M369.1 80.4h.9M373.2 75.7h.9M355.9 79.7h.9M367.7 74.1h.9M370.2 80.3h.9M373.3 71.4h.9M371.4 77.3h.9M363.0 83.0h.9M381.5 80.8h.9M366.1 84.8h.9M359.4 79.8h.9M362.7 77.0h.9M368.7 87.3h.9M369.2 82.0h.9M366.8 84.2h.9M376.6 76.5h.9M375.4 86.4h.9M375.0 85.4h.9M374.8 89.0h.9M378.2 83.0h.9M378.1 83.8h.9M377.1 73.9h.9M378.5 75.1h.9M396.2 83.3h.9M374.2 83.3h.9M412.8 86.1h.9M383.5 83.0h.9M412.6 72.6h.9M379.9 81.7h.9M380.3 73.0h.9M387.7 86.4h.9M382.8 82.5h.9M394.4 76.0h.9M401.2 80.9h.9M391.4 80.4h.9M377.8 81.3h.9M381.0 78.9h.9M382.3 88.5h.9M407.5 77.2h.9M392.7 88.1h.9M388.7 85.2h.9M383.0 79.2h.9M388.7 84.8h.9M391.7 75.3h.9M389.5 78.5h.9M379.1 81.7h.9M378.9 90.1h.9M382.4 81.3h.9M376.5 81.4h.9M377.1 82.8h.9M387.0 83.7h.9M392.6 78.5h.9M375.2 75.1h.9M379.6 79.6h.9M374.8 82.0h.9M383.1 86.8h.9M389.6 77.7h.9M381.0 83.4h.9M385.2 78.6h.9M384.5 69.1h.9M393.5 81.4h.9M383.3 76.2h.9M386.9 89.5h.9M377.1 80.1h.9M375.0 76.0h.9M382.3 80.9h.9M385.2 86.2h.9M374.5 81.1h.9M378.9 87.7h.9M395.6 79.9h.9M383.1 80.7h.9M386.5 80.4h.9M385.1 80.9h.9M384.4 77.3h.9M394.5 80.9h.9M379.6 83.8h.9M388.5 76.3h.9M390.0 82.6h.9M386.9 81.0h.9M383.2 78.5h.9M400.8 76.5h.9M380.4 78.5h.9M417.1 78.8h.9M376.0 82.8h.9M375.6 77.2h.9M381.4 78.9h.9M385.4 78.9h.9M392.6 83.6h.9M384.8 84.5h.9M407.7 79.8h.9M388.4 79.6h.9M391.4 80.0h.9M376.1 85.8h.9M385.1 76.6h.9M388.7 82.7h.9M395.1 80.6h.9M385.7 79.4h.9M379.7 80.8h.9M377.2 77.3h.9M386.6 73.4h.9M374.7 89.5h.9M389.6 79.9h.9M407.9 76.1h.9M391.0 80.3h.9M381.1 88.0h.9M387.5 80.0h.9M377.2 83.0h.9M387.4 73.4h.9M407.0 78.4h.9M384.4 73.1h.9M380.3 72.7h.9M376.8 77.7h.9M378.8 76.9h.9M375.1 89.8h.9M391.6 80.7h.9M388.5 86.3h.9M399.2 73.8h.9M393.5 77.4h.9M394.2 82.4h.9M406.7 87.3h.9M382.7 77.5h.9M382.8 86.1h.9M376.0 68.0h.9M379.4 78.7h.9M374.6 78.8h.9M391.1 74.6h.9M380.5 71.7h.9M406.4 75.4h.9M385.0 76.3h.9M384.3 82.7h.9M382.6 80.5h.9M376.9 77.3h.9M388.6 74.0h.9M380.0 75.4h.9M378.6 83.3h.9M382.1 85.8h.9M387.8 70.7h.9M390.4 88.5h.9M384.4 78.2h.9M393.7 78.1h.9M399.0 78.1h.9M379.9 83.2h.9M391.0 79.3h.9M402.9 81.6h.9M390.4 78.9h.9M374.2 77.1h.9M380.0 85.5h.9M374.5 84.1h.9M378.2 80.8h.9M385.1 84.2h.9M394.1 78.0h.9M387.0 82.3h.9M375.4 85.1h.9M381.2 79.6h.9M394.6 82.5h.9M375.3 74.9h.9M396.2 72.1h.9M383.1 78.3h.9M423.7 75.6h.9M383.4 79.6h.9M374.3 78.8h.9M384.9 84.4h.9M377.2 86.9h.9M375.7 76.6h.9M376.1 74.1h.9M378.3 75.7h.9M380.3 81.0h.9M410.6 81.2h.9M377.7 79.3h.9M384.5 81.5h.9M379.3 75.9h.9M384.8 83.3h.9M396.0 76.7h.9M391.6 83.5h.9M382.5 74.8h.9M396.4 81.8h.9M377.3 81.3h.9M376.5 80.4h.9M387.2 81.9h.9M380.7 80.6h.9M401.9 77.4h.9M393.7 80.4h.9M391.0 91.1h.9M383.1 82.6h.9M379.3 88.6h.9M389.2 79.8h.9M399.0 85.1h.9M375.0 87.8h.9M378.1 75.7h.9M384.5 83.5h.9M386.3 81.1h.9M384.8 77.0h.9M382.3 87.0h.9M390.1 81.3h.9M385.8 76.8h.9M396.6 86.2h.9M399.8 78.7h.9M392.0 83.6h.9M374.5 76.7h.9M379.8 69.9h.9M386.2 74.8h.9M393.8 82.4h.9M377.7 87.4h.9M414.5 76.6h.9M386.7 85.7h.9M389.3 80.5h.9M375.0 77.0h.9M381.8 78.2h.9M412.1 87.6h.9M384.7 88.9h.9M392.3 82.0h.9M386.2 72.8h.9M389.3 83.6h.9M379.8 73.2h.9M374.2 74.7h.9M374.0 86.9h.9M391.2 77.9h.9M381.9 80.0h.9M376.3 76.6h.9M379.2 69.9h.9M376.8 85.7h.9M391.1 79.1h.9M384.3 85.3h.9M391.2 76.1h.9M380.4 87.6h.9M381.2 81.3h.9M386.9 77.1h.9M419.1 77.0h.9M407.5 75.2h.9M389.0 85.7h.9M385.1 81.7h.9M382.0 74.1h.9M380.7 76.5h.9M375.9 84.2h.9M377.0 80.0h.9M389.3 84.4h.9M381.5 83.1h.9M398.1 72.7h.9M373.8 83.0h.9M378.5 81.4h.9M380.5 73.5h.9M375.4 85.2h.9M375.0 79.3h.9M386.3 72.4h.9M379.4 86.6h.9M378.1 76.6h.9M381.4 78.1h.9M386.6 80.6h.9M399.4 82.6h.9M392.4 77.4h.9M384.4 79.8h.9M377.4 86.1h.9M396.5 88.7h.9M382.6 84.0h.9M399.3 83.1h.9M393.2 76.7h.9M380.5 83.7h.9M376.6 77.4h.9M396.3 74.1h.9M375.9 84.3h.9M377.0 86.9h.9M395.9 81.8h.9M400.4 82.9h.9M392.9 78.4h.9M377.5 80.9h.9M400.0 89.6h.9M398.0 74.8h.9M380.2 80.9h.9M396.8 80.7h.9M379.1 83.2h.9M385.3 74.4h.9M381.2 84.4h.9M378.5 85.5h.9M382.5 83.3h.9M373.9 83.8h.9M374.0 81.1h.9M381.2 85.4h.9M374.7 82.3h.9M383.4 76.2h.9M386.7 79.8h.9M392.9 75.3h.9M389.6 75.6h.9M380.1 75.5h.9M386.5 82.2h.9M390.7 79.8h.9M392.0 79.0h.9M381.4 71.4h.9M374.3 81.2h.9M375.0 81.3h.9M379.8 74.5h.9M376.0 83.0h.9M393.1 74.0h.9M383.1 74.2h.9M374.4 75.6h.9M389.0 83.2h.9M407.6 70.7h.9M398.5 75.8h.9M383.9 81.5h.9M392.3 79.0h.9M386.7 79.7h.9M385.5 76.2h.9M379.7 80.1h.9M376.3 80.2h.9M382.7 83.5h.9M378.4 78.6h.9M406.6 75.8h.9M397.2 82.7h.9M390.4 76.9h.9M381.6 84.3h.9M392.0 76.2h.9M377.2 84.8h.9M386.9 79.0h.9M392.5 77.1h.9M384.3 80.4h.9M379.6 77.7h.9M396.6 83.0h.9M392.8 89.2h.9M380.3 79.5h.9M381.4 77.6h.9M383.3 73.8h.9M374.1 78.8h.9M400.0 81.4h.9M380.2 82.4h.9M382.6 80.6h.9M411.1 81.3h.9M378.8 83.2h.9M378.3 77.8h.9M387.5 75.6h.9M377.9 79.7h.9M387.4 78.4h.9M378.9 77.3h.9M375.9 77.6h.9M413.2 79.9h.9M374.6 83.7h.9M393.3 76.8h.9M382.6 81.2h.9M374.8 83.8h.9M386.8 74.6h.9M395.9 79.1h.9M384.0 77.1h.9M377.4 75.4h.9M390.1 81.8h.9M387.6 83.5h.9M377.2 80.5h.9M388.2 79.6h.9M377.9 82.3h.9M401.6 74.6h.9M381.3 84.7h.9M399.4 79.8h.9M384.0 78.8h.9M382.7 86.5h.9M400.3 83.8h.9M383.3 80.7h.9M402.1 81.4h.9M391.9 75.1h.9M375.5 73.5h.9M400.4 82.3h.9M379.2 82.2h.9M377.3 80.5h.9M384.3 77.2h.9M377.8 80.9h.9M385.4 75.3h.9M377.4 79.6h.9M383.2 82.4h.9M376.5 82.2h.9M380.4 86.0h.9M378.3 82.5h.9M388.0 79.1h.9M385.3 84.5h.9M388.6 79.8h.9M378.0 80.4h.9M381.2 78.3h.9M374.9 80.8h.9M389.0 76.3h.9M388.4 83.3h.9M381.2 79.3h.9M391.3 84.4h.9M390.1 84.8h.9M377.4 79.6h.9M376.5 83.7h.9M373.8 72.9h.9M384.5 70.9h.9M379.7 84.1h.9M389.2 74.2h.9M405.6 87.4h.9M375.6 71.8h.9M387.0 84.5h.9M404.8 77.4h.9M401.7 75.6h.9M402.5 79.7h.9M395.1 70.9h.9M383.2 83.5h.9M381.1 79.3h.9M374.8 78.8h.9M382.2 77.6h.9M382.9 85.3h.9M379.7 84.5h.9M401.3 70.0h.9M374.9 84.3h.9M377.2 77.6h.9M379.6 77.9h.9M386.6 78.7h.9M374.5 80.3h.9M387.2 80.1h.9M381.1 93.1h.9M377.4 79.0h.9M376.1 77.2h.9M397.7 80.6h.9M395.6 72.1h.9M385.3 81.8h.9M384.2 82.3h.9M374.7 75.5h.9M377.2 78.0h.9M381.8 69.3h.9M379.8 85.8h.9M375.9 81.2h.9M382.0 81.5h.9M376.2 74.8h.9M391.8 70.0h.9M380.2 80.9h.9M390.0 81.0h.9M384.1 74.3h.9M402.0 77.3h.9M378.9 81.7h.9M376.0 79.5h.9M374.3 81.3h.9M376.7 81.6h.9M381.5 79.7h.9M396.1 75.1h.9M378.0 82.0h.9M385.3 74.0h.9M388.0 76.4h.9M399.8 75.6h.9M391.8 69.6h.9M379.8 87.3h.9M385.1 76.5h.9M390.8 80.3h.9M375.5 86.0h.9M391.7 79.6h.9M381.2 81.0h.9M391.6 75.9h.9M400.4 79.3h.9M377.9 84.8h.9M400.9 79.5h.9M400.4 85.7h.9M388.8 80.4h.9M387.8 80.5h.9M378.4 80.2h.9M378.7 81.2h.9M377.6 78.0h.9M383.1 83.7h.9M394.2 75.6h.9M385.6 81.3h.9M395.0 86.4h.9M374.3 80.9h.9M386.8 76.8h.9M379.3 81.9h.9M393.1 75.4h.9M394.5 82.4h.9M377.5 84.7h.9M377.6 79.4h.9M386.3 78.5h.9M389.9 85.8h.9M377.0 81.0h.9M383.6 76.2h.9M395.3 75.5h.9M375.0 81.5h.9M387.3 77.1h.9M384.4 89.1h.9M379.4 86.1h.9M404.3 84.0h.9M393.5 78.0h.9M384.1 86.3h.9M395.7 75.5h.9M391.0 81.2h.9M385.8 84.2h.9M402.3 77.1h.9M373.9 85.7h.9M377.5 82.6h.9M374.8 73.1h.9M381.9 83.9h.9M381.8 73.7h.9M381.1 80.6h.9M381.3 81.6h.9M381.9 75.7h.9M382.6 76.9h.9M380.1 82.1h.9M394.0 79.0h.9M389.9 84.8h.9M390.7 76.6h.9M376.4 74.5h.9M402.1 71.9h.9M391.9 83.3h.9M384.7 83.2h.9M388.2 84.6h.9M382.2 83.3h.9M389.2 73.7h.9M386.7 72.7h.9M390.0 84.0h.9M373.9 84.0h.9M395.5 84.4h.9M385.0 78.4h.9M379.2 81.7h.9M387.2 84.8h.9M378.7 79.1h.9M374.5 87.5h.9M378.4 88.8h.9M384.0 83.9h.9M377.5 83.6h.9M384.6 81.7h.9M374.3 79.2h.9M391.2 74.1h.9M378.3 82.7h.9M378.2 81.4h.9M379.1 74.6h.9M390.2 80.4h.9M384.5 77.9h.9M389.1 81.0h.9M398.1 88.9h.9M395.4 87.3h.9M387.0 75.9h.9M392.9 85.4h.9M390.0 82.9h.9M379.2 81.3h.9M381.2 81.5h.9M393.5 79.6h.9M403.8 73.3h.9M374.9 74.2h.9M399.4 81.0h.9M378.1 78.0h.9M389.0 79.2h.9M397.4 79.2h.9M381.1 75.0h.9M380.6 72.5h.9M380.8 81.5h.9M382.3 80.9h.9M386.3 79.1h.9M389.4 81.8h.9M385.0 78.7h.9M376.2 76.5h.9M389.1 73.7h.9M392.7 80.0h.9M399.8 84.7h.9M384.5 81.5h.9M376.2 74.6h.9M381.5 76.3h.9M383.8 79.7h.9M385.0 80.8h.9M377.0 78.4h.9M380.3 82.3h.9M393.2 78.8h.9M418.1 79.6h.9M381.3 76.6h.9M389.0 86.7h.9M383.1 79.7h.9M374.8 72.4h.9M383.3 79.0h.9M380.3 81.9h.9M377.6 89.3h.9M388.1 77.4h.9M383.5 83.0h.9M375.0 86.4h.9M378.7 73.0h.9M389.1 81.8h.9M387.9 80.8h.9M395.7 81.7h.9M377.0 76.6h.9M381.5 79.2h.9M388.0 81.2h.9M376.2 81.1h.9M387.7 82.2h.9M400.5 76.9h.9M386.7 80.7h.9M382.6 82.8h.9M386.9 84.3h.9M381.6 76.6h.9M377.0 82.0h.9M399.2 80.5h.9M376.7 87.0h.9M375.4 78.6h.9M378.7 83.6h.9M376.7 73.3h.9M379.2 84.6h.9M384.2 83.9h.9M377.0 77.0h.9M386.3 71.2h.9M404.4 73.3h.9M382.3 79.1h.9M383.8 79.9h.9M376.4 78.2h.9M379.1 84.5h.9M385.8 74.6h.9M383.0 88.8h.9M385.7 76.3h.9M385.5 81.2h.9M377.9 84.5h.9M392.7 77.9h.9M376.2 78.8h.9M374.5 87.2h.9M379.6 82.8h.9M378.3 80.7h.9M389.9 82.8h.9M389.5 83.2h.9M374.5 81.0h.9M380.0 76.8h.9M388.4 80.2h.9M374.4 81.7h.9M377.4 83.7h.9M376.6 80.9h.9M376.8 80.3h.9M384.1 77.3h.9M391.0 81.8h.9M380.7 80.5h.9M378.0 74.9h.9M387.6 80.2h.9M373.9 75.3h.9M381.3 72.4h.9M392.8 75.7h.9M381.5 75.9h.9M393.1 78.7h.9M401.2 78.5h.9M376.9 79.2h.9M374.1 74.4h.9M400.5 74.4h.9M390.0 81.5h.9M399.7 87.1h.9M383.7 84.8h.9M389.3 85.6h.9M398.2 80.3h.9M384.7 88.3h.9M384.5 80.2h.9M377.0 71.6h.9M375.9 76.9h.9M394.4 83.1h.9M374.4 78.8h.9M390.7 77.9h.9M390.6 81.0h.9M377.5 81.9h.9M400.1 73.2h.9M385.4 83.3h.9M377.1 86.5h.9M384.2 82.5h.9M388.1 82.6h.9M392.3 82.2h.9M406.1 76.0h.9M397.3 75.4h.9M375.3 83.4h.9M394.7 81.4h.9M384.7 77.6h.9M386.8 79.9h.9M380.3 80.4h.9M379.9 86.8h.9M376.2 79.2h.9M374.7 83.4h.9M381.1 71.3h.9M374.4 82.3h.9M412.9 77.2h.9M377.3 75.5h.9M374.3 73.0h.9M385.7 79.9h.9M395.6 78.9h.9M383.4 85.5h.9M397.9 88.8h.9M376.4 83.2h.9M409.4 77.0h.9M399.5 76.1h.9M390.0 73.6h.9M379.2 79.5h.9M377.1 72.2h.9M376.1 79.2h.9M396.3 82.4h.9M405.5 80.3h.9M390.1 79.7h.9M383.8 74.5h.9M378.8 76.4h.9M377.4 79.0h.9M393.3 75.9h.9M379.2 75.7h.9M378.4 84.7h.9M381.8 75.3h.9M374.8 80.5h.9M382.8 82.0h.9M375.3 83.2h.9M393.8 83.2h.9M393.1 76.6h.9M403.7 80.8h.9M392.7 75.6h.9M384.4 77.5h.9M376.9 81.6h.9M376.4 79.0h.9M387.6 71.5h.9M383.9 75.1h.9M387.4 70.0h.9M391.3 68.0h.9M376.3 80.4h.9M389.9 76.0h.9M387.3 75.6h.9M374.8 80.6h.9M384.0 74.9h.9M393.8 79.4h.9M389.3 74.1h.9M390.5 79.7h.9M385.8 77.5h.9M387.1 80.3h.9M401.6 90.4h.9M383.3 82.2h.9M376.3 78.5h.9M378.9 84.2h.9M388.2 84.1h.9M397.7 83.4h.9M395.8 89.8h.9M380.0 85.1h.9M374.2 81.0h.9M384.0 88.7h.9M378.3 85.0h.9M385.5 79.6h.9M379.2 79.9h.9M381.0 83.0h.9M384.1 73.4h.9M379.9 74.7h.9M390.3 74.8h.9M381.3 80.9h.9M374.2 72.2h.9M399.7 79.3h.9M384.4 84.7h.9M388.3 75.9h.9M400.0 88.1h.9M385.6 79.8h.9M388.5 79.5h.9M394.0 82.6h.9M374.4 83.3h.9M380.4 85.7h.9M383.2 85.8h.9M411.9 72.2h.9M399.7 73.6h.9M374.4 88.2h.9M390.5 83.0h.9M379.9 81.1h.9M381.2 79.5h.9M377.6 75.1h.9M400.4 79.8h.9M402.9 83.0h.9M381.1 75.6h.9M377.2 80.6h.9M375.1 79.1h.9M407.5 78.0h.9M377.1 78.3h.9M378.0 73.7h.9M386.1 86.5h.9M387.4 77.9h.9M385.7 79.5h.9M381.1 88.8h.9M388.9 85.9h.9M380.3 82.2h.9M412.4 79.6h.9M374.2 68.3h.9M378.4 79.4h.9M376.3 81.4h.9M389.7 76.1h.9M385.9 79.1h.9M374.9 83.3h.9M376.0 81.1h.9M389.4 80.2h.9M398.7 87.5h.9M384.8 87.4h.9M366.7 96.5h.9M383.8 98.3h.9M373.1 95.9h.9M368.9 93.5h.9M364.1 88.3h.9M370.0 93.3h.9M384.8 107.9h.9M389.6 91.3h.9M368.0 96.6h.9M356.8 105.1h.9M378.3 98.7h.9M389.9 99.7h.9M368.6 98.6h.9M367.0 99.7h.9M359.0 99.8h.9M368.7 95.1h.9M367.8 96.6h.9M354.9 100.3h.9M369.6 106.3h.9M371.4 102.0h.9M371.2 96.6h.9M359.9 94.9h.9M365.9 85.1h.9M368.7 93.7h.9M374.4 102.4h.9M368.6 103.2h.9M383.4 101.1h.9M368.4 97.8h.9M387.1 105.0h.9M382.4 88.6h.9M349.9 106.2h.9M378.4 104.1h.9M377.1 95.8h.9M375.9 97.1h.9M385.8 101.5h.9M362.5 93.5h.9M381.2 101.7h.9M374.3 99.0h.9M359.7 93.0h.9M376.6 88.1h.9M376.3 100.2h.9M377.8 101.6h.9M389.8 98.8h.9M363.8 88.7h.9M350.1 97.8h.9M380.1 88.9h.9M373.3 93.7h.9M369.2 98.4h.9M372.0 91.4h.9M378.8 96.6h.9M353.7 101.2h.9M386.7 95.4h.9M386.9 89.4h.9M369.2 103.9h.9M384.2 99.9h.9M381.8 95.3h.9M378.5 102.1h.9M380.7 99.2h.9M379.7 99.5h.9M377.4 89.5h.9M377.4 92.6h.9M368.0 97.6h.9M374.0 90.7h.9M366.5 98.5h.9M367.7 97.5h.9M373.8 98.4h.9M366.4 98.2h.9M377.1 90.9h.9M379.1 92.3h.9M375.1 100.4h.9M377.7 91.4h.9M362.8 91.4h.9M377.1 98.0h.9M354.4 101.0h.9M382.9 94.7h.9M370.8 98.5h.9M361.9 95.1h.9M376.9 95.6h.9M371.5 97.9h.9M388.0 98.6h.9M374.8 94.9h.9M383.4 97.6h.9M371.3 103.9h.9M384.4 92.6h.9M368.6 103.7h.9M367.1 105.2h.9M370.0 107.1h.9M362.3 87.5h.9M357.7 107.2h.9M364.6 95.1h.9M366.1 93.6h.9M373.0 97.9h.9M365.6 94.6h.9M384.3 102.1h.9M381.0 103.5h.9M369.7 101.7h.9M387.3 93.1h.9M384.5 84.9h.9M353.3 89.9h.9M362.0 92.4h.9M366.8 101.4h.9M364.5 95.4h.9M359.1 89.2h.9M369.7 93.5h.9M379.9 97.8h.9M354.2 100.9h.9M360.0 95.2h.9M361.5 93.1h.9M365.7 91.3h.9M364.4 95.8h.9M378.3 100.8h.9M388.4 89.1h.9M367.7 103.3h.9M360.6 96.4h.9M378.3 104.9h.9M376.9 98.8h.9M369.9 100.3h.9M372.3 98.9h.9M365.2 96.5h.9M363.0 91.7h.9M363.3 93.0h.9M365.0 94.3h.9M356.9 98.7h.9M374.3 104.9h.9M348.9 90.1h.9M362.1 92.8h.9M371.9 92.9h.9M364.0 100.8h.9M369.5 89.1h.9M380.3 108.4h.9M382.0 96.3h.9M384.2 96.8h.9M368.0 98.4h.9M383.6 97.7h.9M368.4 90.2h.9M373.1 91.8h.9M370.4 90.2h.9M363.0 92.3h.9M364.9 91.4h.9M383.0 101.0h.9M368.1 91.9h.9M381.7 95.9h.9M376.7 102.2h.9M367.4 99.3h.9M375.5 95.0h.9M369.6 94.0h.9M387.0 102.2h.9M397.1 97.5h.9M379.7 94.0h.9M364.2 92.8h.9M375.6 101.0h.9M353.1 100.7h.9M379.9 101.1h.9M359.1 98.1h.9M374.4 90.5h.9M360.5 108.1h.9M364.9 94.7h.9M352.7 94.0h.9M384.1 99.1h.9M363.2 97.3h.9M374.7 100.1h.9M361.8 99.0h.9M364.9 94.6h.9M363.2 93.1h.9M375.9 88.3h.9M373.1 110.7h.9M362.8 95.7h.9M370.6 104.9h.9M357.7 99.9h.9M370.3 106.9h.9M369.3 107.1h.9M362.1 98.9h.9M360.8 94.2h.9M359.4 95.1h.9M385.9 94.5h.9M394.6 105.1h.9M374.1 97.2h.9M374.2 93.4h.9M376.8 97.6h.9M352.7 97.3h.9M376.7 97.4h.9M374.1 97.1h.9M366.6 102.3h.9M384.5 95.6h.9M378.8 91.7h.9M383.0 93.0h.9M371.6 101.8h.9M366.5 97.3h.9M380.7 94.4h.9M374.4 102.5h.9M373.6 93.2h.9M367.5 95.9h.9M371.3 100.2h.9M356.5 96.7h.9M373.1 104.6h.9M357.4 92.7h.9M379.6 96.9h.9M381.5 96.9h.9M365.1 96.8h.9M382.8 100.7h.9M373.0 97.8h.9M381.3 100.2h.9M373.5 100.7h.9M372.1 91.6h.9M379.6 103.0h.9M384.2 96.8h.9M359.9 99.1h.9M365.7 87.9h.9M372.6 93.3h.9M371.8 94.7h.9M378.8 101.3h.9M375.9 102.9h.9M366.2 108.7h.9M355.0 100.7h.9M380.8 95.1h.9M372.3 91.2h.9M367.1 98.5h.9M359.3 87.5h.9M367.8 93.0h.9M362.2 96.3h.9M358.3 102.4h.9M381.9 97.2h.9M365.7 96.8h.9M370.2 93.2h.9M365.1 99.2h.9M362.7 94.0h.9M367.0 92.2h.9M373.5 90.8h.9M379.7 100.6h.9M370.9 101.2h.9M381.3 95.2h.9M370.6 94.1h.9M367.7 95.2h.9M371.9 99.6h.9M391.5 98.7h.9M379.9 95.9h.9M386.4 97.6h.9M369.5 95.7h.9M371.4 95.1h.9M372.8 105.6h.9M371.7 93.4h.9M354.0 96.5h.9M361.8 93.3h.9M372.4 98.7h.9M375.4 102.6h.9M362.3 93.8h.9M363.0 92.1h.9M365.0 92.9h.9M377.4 91.8h.9M391.3 87.0h.9M378.7 89.4h.9M366.6 91.1h.9M371.1 99.3h.9M367.2 93.8h.9M361.9 92.9h.9M363.1 93.7h.9M371.5 101.2h.9M364.5 87.2h.9M367.5 100.9h.9M361.5 98.7h.9M360.3 90.8h.9M372.9 88.0h.9M367.1 83.8h.9M361.2 98.7h.9M366.2 93.5h.9M375.7 92.4h.9M360.2 94.9h.9M370.1 97.5h.9M369.1 102.6h.9M375.9 96.2h.9M391.9 89.3h.9M373.0 93.1h.9M390.4 98.2h.9M378.3 98.8h.9M384.2 94.2h.9M379.0 88.5h.9M375.9 102.3h.9M378.7 99.7h.9M353.5 97.2h.9M367.6 104.2h.9M375.6 100.0h.9M382.7 99.4h.9M358.1 92.9h.9M351.5 102.7h.9M368.9 90.6h.9M375.2 94.8h.9M367.8 103.1h.9M351.8 89.7h.9M369.7 95.6h.9M381.0 95.1h.9M375.4 105.1h.9M358.1 89.9h.9M364.1 95.8h.9M360.5 98.0h.9M363.5 102.3h.9M375.3 100.1h.9M372.6 97.8h.9M355.7 95.7h.9M354.2 103.2h.9M360.2 92.4h.9M366.4 107.4h.9M360.4 104.9h.9M371.9 109.3h.9M368.6 94.1h.9M370.4 94.1h.9M364.0 100.2h.9M366.4 101.1h.9M376.1 101.3h.9M385.1 101.9h.9M361.9 103.3h.9M381.8 91.6h.9M382.4 87.7h.9M379.9 94.8h.9M368.0 96.0h.9M365.4 100.4h.9M370.2 96.6h.9M371.1 95.0h.9M361.3 99.7h.9M378.3 91.1h.9M379.4 102.9h.9M372.2 103.9h.9M350.7 103.5h.9M363.8 98.3h.9M362.2 108.7h.9M366.9 100.0h.9M357.2 95.4h.9M374.6 96.3h.9M363.7 104.0h.9M356.4 97.2h.9M369.1 95.0h.9M376.6 98.0h.9M369.0 100.0h.9M369.9 99.4h.9M382.4 98.0h.9M371.3 94.1h.9M383.7 101.5h.9M375.6 98.3h.9M363.0 97.2h.9M373.5 91.2h.9M361.9 96.3h.9M388.4 98.6h.9M357.3 103.0h.9M378.9 100.3h.9M365.7 96.3h.9M390.9 102.3h.9M413.0 88.0h.9M356.2 94.8h.9M362.3 93.6h.9M377.4 103.3h.9M357.6 99.6h.9M378.7 98.1h.9M383.2 102.5h.9M363.3 97.5h.9M373.3 91.1h.9M368.6 101.8h.9M374.4 97.0h.9M394.6 99.9h.9M379.6 92.7h.9M382.0 94.7h.9M369.1 94.9h.9M359.0 99.7h.9M359.4 100.9h.9M363.3 103.1h.9M373.9 102.6h.9M360.6 99.7h.9M377.7 98.3h.9M369.8 94.1h.9M359.1 91.8h.9M374.3 84.0h.9M363.7 100.3h.9M371.1 95.9h.9M363.6 97.8h.9M356.5 94.2h.9M378.3 92.4h.9M369.6 95.1h.9M359.2 87.3h.9M362.7 93.2h.9M361.2 96.6h.9M373.7 100.0h.9M374.2 91.2h.9M383.7 98.7h.9M377.7 90.7h.9M380.9 108.2h.9M375.7 102.4h.9M365.5 97.7h.9M370.4 100.2h.9M372.4 98.3h.9M362.4 91.1h.9M370.8 109.3h.9M361.7 99.6h.9M383.3 93.8h.9M355.6 98.8h.9M370.5 92.7h.9M385.0 100.4h.9M370.8 90.2h.9M382.6 102.5h.9M378.7 105.0h.9M361.3 92.1h.9M379.1 99.2h.9M370.5 94.6h.9M380.5 98.2h.9M379.1 91.4h.9M371.5 99.0h.9M380.5 88.8h.9M369.0 93.8h.9M371.0 96.3h.9M374.9 100.9h.9M373.5 96.6h.9M379.2 103.9h.9M371.6 93.1h.9M387.5 101.5h.9M391.4 95.0h.9M367.3 96.2h.9M370.1 89.8h.9M378.9 89.6h.9M361.0 98.3h.9M360.1 90.3h.9M351.7 90.8h.9M368.3 107.5h.9M377.3 93.8h.9M383.7 98.2h.9M353.4 88.3h.9M356.8 94.1h.9M371.3 94.0h.9M365.9 92.3h.9M372.6 100.9h.9M360.9 103.2h.9M363.1 95.6h.9M386.7 100.0h.9M371.4 87.5h.9M371.8 95.2h.9M368.9 102.5h.9M365.8 105.9h.9M371.5 97.8h.9M368.1 97.5h.9M383.8 98.2h.9M361.6 93.2h.9M382.0 99.7h.9M363.0 96.4h.9M371.9 99.9h.9M362.0 97.5h.9M358.8 93.2h.9M368.9 103.7h.9M370.2 105.3h.9M374.6 103.4h.9M369.5 88.1h.9M350.4 94.9h.9M387.8 96.2h.9M366.3 100.1h.9M367.5 95.1h.9M372.9 99.0h.9M365.5 93.0h.9M386.2 92.7h.9M362.5 96.1h.9M369.7 98.5h.9M385.8 103.5h.9M370.6 97.6h.9M380.2 96.4h.9M372.6 91.6h.9M374.8 96.6h.9M357.5 98.2h.9M392.0 98.7h.9M363.5 103.4h.9M374.4 98.0h.9M385.3 101.6h.9M390.8 93.0h.9M366.9 96.6h.9M372.9 91.1h.9M373.7 90.1h.9M365.7 95.8h.9M373.4 98.6h.9M363.9 98.7h.9M373.9 96.6h.9M371.3 94.5h.9M388.1 103.8h.9M373.4 103.6h.9M362.7 94.4h.9M367.9 99.2h.9M367.9 92.5h.9M356.9 91.5h.9M379.9 99.4h.9M357.7 106.3h.9M366.4 94.7h.9M369.4 97.2h.9M367.4 96.8h.9M378.3 101.5h.9M364.6 96.2h.9M363.9 94.8h.9M370.1 95.4h.9M376.6 92.4h.9M374.7 100.7h.9M368.1 95.4h.9M376.7 95.1h.9M367.9 98.0h.9M373.3 99.9h.9M358.0 94.9h.9M375.2 99.8h.9M365.4 94.7h.9M385.4 98.3h.9M382.7 90.3h.9M375.0 94.3h.9M366.3 103.3h.9M361.1 92.3h.9M364.4 95.8h.9M371.3 99.1h.9M382.7 99.3h.9M387.6 102.3h.9M376.2 96.3h.9M384.0 95.5h.9M380.3 97.2h.9M365.8 100.3h.9M377.5 98.5h.9M381.3 97.6h.9M364.1 97.4h.9M388.6 92.2h.9M353.9 97.0h.9M361.4 103.7h.9M372.5 92.4h.9M370.5 92.4h.9M375.6 101.6h.9M382.4 102.2h.9M370.9 102.9h.9M375.6 90.7h.9M383.8 92.6h.9M365.5 89.3h.9M363.2 86.6h.9M359.4 92.9h.9M359.8 95.1h.9M378.5 95.5h.9M375.1 102.5h.9M365.3 104.3h.9M370.6 96.8h.9M374.4 103.7h.9M359.6 101.6h.9M366.5 97.5h.9M361.5 84.5h.9M382.0 100.8h.9M361.1 92.5h.9M359.7 96.8h.9M390.2 96.3h.9M355.0 100.7h.9M362.5 89.1h.9M374.7 97.0h.9M372.6 100.5h.9M380.0 86.7h.9M372.6 102.7h.9M382.7 91.9h.9M353.8 91.5h.9M374.7 96.0h.9M378.7 96.1h.9M359.0 91.5h.9M368.8 101.1h.9M384.9 92.0h.9M375.2 96.7h.9M360.1 91.2h.9M385.7 94.8h.9M370.2 99.3h.9M374.4 100.4h.9M363.4 95.1h.9M373.4 98.7h.9M364.1 88.6h.9M379.1 101.2h.9M379.9 96.4h.9M354.1 95.0h.9M390.1 98.5h.9M373.4 88.9h.9M364.9 101.9h.9M374.1 96.4h.9M382.8 100.5h.9M376.2 96.2h.9M375.0 102.1h.9M374.0 90.8h.9M369.3 95.6h.9M374.9 103.3h.9M370.3 94.8h.9M378.0 99.3h.9M363.6 99.3h.9M372.8 98.7h.9M356.6 87.2h.9M356.8 88.6h.9M380.2 101.9h.9M358.8 104.3h.9M360.3 93.0h.9M391.4 90.6h.9M377.6 101.1h.9M381.5 100.3h.9M373.4 104.6h.9M370.3 97.5h.9M374.8 95.3h.9M369.7 103.0h.9M386.3 100.0h.9M370.0 94.6h.9M367.4 95.2h.9M366.9 96.6h.9M368.9 102.4h.9M357.7 95.0h.9M378.7 95.0h.9M367.2 99.8h.9M370.3 92.2h.9M372.5 100.2h.9M355.1 101.6h.9M354.9 100.5h.9M358.7 98.2h.9M370.7 102.1h.9M370.4 94.9h.9M364.0 98.1h.9M368.8 101.4h.9M375.0 103.2h.9M377.8 97.9h.9M370.5 100.1h.9M378.3 90.4h.9M374.9 95.3h.9M374.1 101.0h.9M353.0 96.5h.9M380.5 88.5h.9M373.2 97.1h.9M365.8 101.5h.9M379.8 97.2h.9M384.4 104.3h.9M373.1 101.2h.9M379.4 105.6h.9M378.8 100.5h.9M372.3 100.7h.9M386.0 96.7h.9M370.2 92.3h.9M395.4 95.2h.9M366.5 94.3h.9M382.4 98.9h.9M352.1 97.8h.9M388.5 96.9h.9M372.4 111.4h.9M369.0 96.1h.9M377.3 109.2h.9M375.4 89.1h.9M369.9 96.1h.9M378.4 95.4h.9M372.6 90.8h.9M359.4 97.5h.9M386.7 92.4h.9M356.4 103.0h.9M375.0 101.1h.9M369.7 98.4h.9M370.5 97.2h.9M388.2 95.2h.9M367.6 97.2h.9M369.7 105.6h.9M369.9 99.1h.9M359.8 99.9h.9M377.5 100.5h.9M356.3 94.1h.9M370.4 105.3h.9M389.5 102.3h.9M365.4 96.1h.9M378.8 87.5h.9M384.5 104.5h.9M379.6 95.8h.9M374.8 89.3h.9M362.4 95.0h.9M364.3 105.5h.9M375.7 85.2h.9M382.2 99.7h.9M369.2 93.6h.9M390.9 98.4h.9M373.9 89.2h.9M365.9 101.7h.9M372.6 95.0h.9M368.5 89.3h.9M357.6 89.4h.9M374.3 101.8h.9M368.1 102.7h.9M371.8 81.6h.9M386.7 91.8h.9M386.3 95.8h.9M370.7 94.8h.9M361.8 100.2h.9M387.1 103.6h.9M366.1 99.7h.9M381.3 100.1h.9M359.0 107.4h.9M364.3 93.0h.9M372.7 98.3h.9M366.0 90.6h.9M359.7 97.2h.9M353.5 102.8h.9M377.5 98.2h.9M373.3 92.8h.9M366.0 101.6h.9M366.4 105.1h.9M381.0 100.6h.9M369.1 92.5h.9M369.9 92.4h.9M367.8 95.4h.9M366.0 102.8h.9M362.9 93.4h.9M382.5 98.4h.9M376.0 94.0h.9M374.4 103.7h.9M371.5 99.3h.9M382.9 100.1h.9M383.0 91.2h.9M354.6 91.6h.9M375.4 93.8h.9M352.2 106.2h.9M383.7 94.5h.9M365.0 93.7h.9M378.1 99.4h.9M372.6 104.0h.9M363.5 91.2h.9M371.3 96.9h.9M372.2 99.2h.9M356.6 105.1h.9M354.3 98.8h.9M374.6 101.3h.9M373.4 93.0h.9M369.4 90.3h.9M369.7 96.0h.9M353.5 108.1h.9M365.6 99.9h.9M383.7 97.0h.9M367.4 91.6h.9M364.3 93.5h.9M369.8 101.1h.9M373.1 104.6h.9M375.0 98.3h.9M373.8 89.7h.9M370.7 93.6h.9M369.2 96.9h.9M368.6 96.8h.9M374.6 98.7h.9M364.9 101.7h.9M371.8 99.0h.9M387.8 105.5h.9M391.9 96.0h.9M375.2 99.5h.9M372.2 96.4h.9M379.2 102.8h.9M392.1 94.5h.9M375.6 93.4h.9M368.7 85.3h.9M391.4 89.2h.9M372.3 88.2h.9M368.0 92.0h.9M351.4 91.9h.9M369.1 96.5h.9M352.8 100.3h.9M368.2 91.5h.9M385.6 93.6h.9M373.4 104.7h.9M371.8 96.6h.9M380.3 95.0h.9M371.9 96.4h.9M367.6 100.9h.9M373.8 104.2h.9M374.9 90.1h.9M374.9 95.7h.9M368.8 101.9h.9M375.1 89.1h.9M390.3 96.4h.9M355.7 95.4h.9M375.8 91.5h.9M363.0 88.2h.9M373.7 94.5h.9M385.6 98.5h.9M373.5 94.0h.9M380.5 90.2h.9M373.8 99.5h.9M363.7 91.2h.9M382.1 106.2h.9M374.9 106.2h.9M375.5 96.2h.9M367.4 91.0h.9M379.9 94.3h.9M365.1 98.9h.9M375.8 93.4h.9M373.1 96.3h.9M372.4 96.4h.9M367.1 84.9h.9M365.5 103.0h.9M368.0 97.9h.9M376.9 92.1h.9M371.8 95.7h.9M374.6 100.1h.9M371.8 96.0h.9M380.2 97.7h.9M357.1 103.3h.9M375.4 94.1h.9M370.6 92.3h.9M372.4 89.7h.9M380.7 99.4h.9M361.7 99.6h.9M357.3 94.4h.9M361.6 100.5h.9M377.7 90.3h.9M372.8 99.6h.9M367.8 109.2h.9M356.2 103.7h.9M385.4 95.3h.9M360.3 103.1h.9M357.5 96.9h.9M365.7 90.5h.9M376.4 102.8h.9M358.1 100.3h.9M372.0 93.6h.9M366.0 99.8h.9M381.7 95.6h.9M374.8 87.3h.9M366.1 96.9h.9M368.2 98.5h.9M362.6 100.2h.9M365.4 96.4h.9M377.2 103.8h.9M361.3 96.5h.9M361.3 97.2h.9M365.4 91.0h.9M381.6 98.8h.9M371.0 103.6h.9M355.4 99.0h.9M386.3 95.2h.9M362.7 93.0h.9M382.7 102.3h.9M374.0 101.6h.9M364.6 95.0h.9M378.8 92.2h.9M373.0 96.8h.9M362.8 98.0h.9M358.8 93.7h.9M352.1 90.6h.9M362.5 98.7h.9M371.0 90.6h.9M368.5 108.2h.9M371.6 99.0h.9M350.7 94.4h.9M381.7 89.7h.9M362.3 93.2h.9M369.6 99.9h.9M354.2 100.3h.9M374.7 91.0h.9M362.7 94.2h.9M386.0 91.8h.9M379.9 106.7h.9M367.0 92.8h.9M370.7 91.8h.9M367.1 91.4h.9M356.4 88.7h.9M379.4 93.4h.9M359.6 102.2h.9M368.9 95.1h.9M363.3 96.8h.9M367.6 94.6h.9M368.9 100.6h.9M368.7 103.3h.9M379.9 91.6h.9M361.3 90.3h.9M363.2 100.3h.9M367.2 94.2h.9M371.4 85.7h.9M373.6 95.8h.9M376.8 95.2h.9M380.0 102.1h.9M367.6 99.6h.9M361.8 93.1h.9M359.9 95.6h.9M358.8 91.2h.9M368.3 89.3h.9M376.0 92.0h.9M368.0 95.1h.9M380.1 99.7h.9M368.1 93.7h.9M378.6 96.0h.9M360.3 97.3h.9M376.4 96.5h.9M370.9 104.1h.9M365.4 100.5h.9M385.3 105.2h.9M359.3 99.3h.9M371.7 108.7h.9M382.6 101.8h.9M381.7 99.5h.9M360.4 107.9h.9M354.2 100.6h.9M377.9 97.7h.9M380.1 96.6h.9M378.2 97.9h.9M363.4 101.6h.9M365.0 99.9h.9M360.4 97.9h.9M375.7 102.5h.9M360.0 94.0h.9M370.3 91.5h.9M376.2 108.6h.9M377.0 99.9h.9M362.5 99.6h.9M375.6 106.6h.9M367.1 103.0h.9M367.1 95.3h.9M366.4 98.1h.9M356.2 94.9h.9M384.7 87.6h.9M379.0 100.6h.9M366.4 92.8h.9M381.4 95.0h.9M373.4 95.6h.9M359.8 102.0h.9M376.8 92.0h.9M381.1 90.4h.9M358.2 101.1h.9M366.4 96.7h.9M385.8 91.3h.9M376.4 94.7h.9M371.4 95.6h.9M362.9 97.0h.9M361.7 96.8h.9M361.4 95.4h.9M371.8 89.7h.9M369.9 100.3h.9M371.7 101.4h.9M361.0 99.7h.9M373.5 82.9h.9M370.4 101.2h.9M369.9 96.9h.9M369.3 96.0h.9M360.5 93.3h.9M349.5 107.3h.9M370.3 97.9h.9M376.5 99.3h.9M369.8 88.8h.9M359.1 105.2h.9M374.6 100.1h.9M360.4 94.3h.9M373.1 92.8h.9M381.9 92.9h.9M366.4 90.9h.9M373.9 103.3h.9M372.5 96.7h.9M367.1 100.8h.9M370.5 105.6h.9M368.0 94.8h.9M365.5 87.2h.9M372.7 97.4h.9M355.3 90.9h.9M360.3 95.2h.9M360.8 100.6h.9M381.9 93.5h.9M370.7 91.4h.9M383.1 91.3h.9M363.0 96.8h.9M362.8 110.2h.9M368.7 95.5h.9M361.1 96.3h.9M364.7 94.6h.9M380.0 93.8h.9M374.5 93.6h.9M380.1 92.9h.9M361.3 95.5h.9M382.4 94.7h.9M362.2 96.0h.9M363.7 98.0h.9M364.0 98.3h.9M379.0 99.2h.9M384.8 98.3h.9M388.1 103.1h.9M367.9 100.6h.9M363.5 95.7h.9M369.7 92.8h.9M373.4 96.3h.9M389.4 100.6h.9M368.2 93.4h.9M365.4 93.3h.9M363.4 96.8h.9M357.7 95.2h.9M375.2 93.8h.9M359.9 94.2h.9M378.6 92.9h.9M385.2 88.4h.9M362.9 99.8h.9M383.3 95.7h.9M354.8 95.3h.9M361.9 93.3h.9M367.0 93.7h.9M370.1 97.5h.9M367.8 87.8h.9M368.8 83.7h.9M371.2 94.6h.9M361.7 107.2h.9M386.2 103.4h.9M372.6 94.3h.9M374.9 104.9h.9M369.7 96.0h.9M365.0 96.4h.9M378.4 92.2h.9M380.5 97.4h.9M391.6 97.7h.9M382.5 91.8h.9M393.4 97.2h.9M369.8 104.2h.9M372.0 90.6h.9M376.3 99.5h.9M370.4 94.4h.9M355.3 105.1h.9M366.4 98.6h.9M365.8 93.2h.9M373.2 92.4h.9M379.4 88.8h.9M376.2 102.7h.9M366.4 97.9h.9M378.4 94.6h.9M368.4 95.9h.9M396.4 92.7h.9M369.0 94.6h.9M365.4 92.2h.9M364.4 97.6h.9M381.6 104.9h.9M358.5 92.0h.9M370.3 91.9h.9M363.3 95.7h.9M365.3 92.6h.9M372.7 92.9h.9M368.1 98.4h.9M377.4 97.8h.9M380.9 97.6h.9M356.7 104.1h.9M397.6 100.8h.9M385.8 102.3h.9M366.5 99.9h.9M364.2 94.0h.9M376.0 97.3h.9M364.5 89.8h.9M378.3 96.8h.9M372.0 92.5h.9M363.4 96.6h.9M353.1 102.8h.9M370.9 102.3h.9M379.7 94.0h.9M375.5 91.3h.9M362.1 103.5h.9M365.7 93.0h.9M375.2 97.0h.9M379.9 90.5h.9M368.3 91.5h.9M371.0 95.5h.9M361.9 88.2h.9M357.9 101.5h.9M367.2 91.4h.9M372.4 91.3h.9M379.4 101.2h.9M371.1 94.0h.9M353.5 99.3h.9M389.9 97.8h.9M365.6 100.8h.9M367.1 90.8h.9M369.7 99.8h.9M353.5 102.0h.9M386.1 96.7h.9M366.2 89.8h.9M375.8 95.5h.9M382.2 104.6h.9M382.5 97.8h.9M353.6 103.4h.9M366.2 94.5h.9M380.9 99.2h.9M360.9 95.2h.9M368.0 96.1h.9M359.6 104.3h.9M369.5 100.1h.9M380.7 107.6h.9M377.6 93.3h.9M366.6 101.2h.9M386.4 89.6h.9M388.9 94.1h.9M369.0 94.7h.9M376.4 95.9h.9M370.4 92.3h.9M384.6 98.7h.9M370.4 107.5h.9M376.9 103.7h.9M368.3 97.6h.9M369.4 101.2h.9M373.5 88.5h.9M376.3 95.8h.9M373.2 101.7h.9M368.2 100.1h.9M371.0 96.5h.9M366.1 96.4h.9M367.9 100.8h.9M349.2 99.8h.9M370.1 91.7h.9M378.2 96.8h.9M376.1 103.6h.9M372.9 89.0h.9M355.8 96.6h.9M359.5 107.6h.9M370.0 88.0h.9M350.4 94.2h.9M349.1 101.3h.9M366.3 102.5h.9M359.9 94.7h.9M381.2 88.9h.9M377.2 104.1h.9M361.5 96.2h.9M386.5 104.3h.9M386.2 96.4h.9M367.4 96.1h.9M367.3 101.0h.9M378.9 99.5h.9M364.4 100.8h.9M375.6 98.1h.9M382.5 95.1h.9M372.1 102.4h.9M363.9 101.4h.9M377.9 104.4h.9M383.2 94.1h.9M387.9 94.7h.9M359.8 95.6h.9M367.7 92.5h.9M380.2 99.5h.9M376.8 90.2h.9M388.2 99.3h.9M382.0 98.8h.9M374.5 100.8h.9M372.6 103.9h.9M366.2 86.9h.9M367.7 96.9h.9M374.9 97.5h.9M375.1 99.2h.9M369.5 99.7h.9M376.3 93.2h.9M354.5 98.1h.9M375.7 102.3h.9M381.6 98.5h.9M382.1 94.2h.9M366.7 103.7h.9M359.9 96.9h.9M361.2 91.0h.9M391.1 88.3h.9M387.8 94.8h.9M364.0 88.8h.9M373.2 100.1h.9M376.6 92.5h.9M386.6 98.1h.9M376.0 100.0h.9M376.4 95.5h.9M374.5 93.5h.9M373.5 92.3h.9M357.7 94.1h.9M369.7 93.7h.9M368.3 94.3h.9M371.5 105.7h.9M376.6 101.2h.9M380.5 101.3h.9M375.1 101.2h.9M381.2 96.3h.9M368.6 97.0h.9M370.6 99.4h.9M367.0 95.0h.9M373.3 99.5h.9M370.2 89.7h.9M368.8 101.2h.9M369.0 103.2h.9M366.4 95.9h.9M378.6 102.8h.9M368.4 104.3h.9M372.9 99.0h.9M388.0 101.2h.9M369.2 96.8h.9M362.7 102.6h.9M374.5 106.3h.9M382.6 97.2h.9M365.5 95.5h.9M382.9 96.5h.9M381.8 103.1h.9M385.2 98.3h.9M377.9 90.9h.9M374.4 97.3h.9M379.9 88.5h.9M368.3 108.4h.9M372.8 94.8h.9M372.2 96.5h.9M368.1 100.1h.9M373.8 102.7h.9M394.6 100.7h.9M374.6 104.3h.9M358.3 106.0h.9M360.7 94.8h.9M371.8 90.6h.9M365.4 97.9h.9M375.1 90.3h.9M355.8 98.8h.9M375.6 101.0h.9M366.0 94.2h.9M400.0 96.6h.9M361.7 90.7h.9M368.8 105.5h.9M377.7 92.7h.9M358.3 94.1h.9M371.0 98.5h.9M375.8 102.6h.9M358.8 89.5h.9M370.4 100.0h.9M366.0 98.4h.9M370.4 102.8h.9M369.2 94.8h.9M375.9 102.0h.9M365.1 96.6h.9M364.4 91.6h.9M393.9 94.1h.9M368.2 95.5h.9M363.5 96.4h.9M370.3 99.0h.9M366.0 90.2h.9M369.9 100.6h.9M383.0 96.7h.9M368.7 93.4h.9M385.1 94.2h.9M366.4 96.9h.9M369.0 97.4h.9M375.1 105.5h.9M375.9 99.2h.9M357.5 108.0h.9M376.0 101.5h.9M368.2 96.7h.9M367.7 96.3h.9M367.4 101.0h.9M381.2 96.9h.9M368.4 101.3h.9M369.3 99.8h.9M365.1 104.0h.9M366.9 99.9h.9M387.2 99.1h.9M368.7 100.8h.9M385.5 86.2h.9M367.6 96.4h.9M379.3 89.7h.9M378.8 97.4h.9M376.5 92.1h.9M383.2 110.0h.9M372.4 100.1h.9M361.4 83.2h.9M370.5 96.0h.9M377.5 97.4h.9M358.8 86.1h.9M381.6 101.9h.9M369.9 95.9h.9M377.7 94.5h.9M359.1 103.3h.9M358.2 95.1h.9M383.4 99.5h.9M381.5 104.5h.9M373.1 89.8h.9M355.1 86.2h.9M378.2 90.0h.9M370.0 97.6h.9M374.5 97.0h.9M383.3 98.8h.9M381.3 96.7h.9M371.5 98.0h.9M375.8 101.0h.9M366.6 100.2h.9M397.4 83.8h.9M377.2 96.6h.9M369.1 94.2h.9M360.1 98.4h.9M364.4 105.0h.9M374.2 105.8h.9M372.3 90.0h.9M375.3 98.2h.9M379.3 85.2h.9M371.9 104.4h.9M372.0 86.9h.9M375.2 99.6h.9M384.5 100.0h.9M361.8 103.0h.9M377.9 103.1h.9M369.6 102.3h.9M351.3 90.4h.9M377.0 105.2h.9M376.6 98.0h.9M369.7 95.0h.9M381.8 88.2h.9M373.8 104.7h.9M355.5 85.9h.9M361.9 97.1h.9M376.4 94.3h.9M378.7 94.5h.9M355.9 102.2h.9M371.3 93.8h.9M355.6 84.4h.9M361.2 100.7h.9M362.6 90.4h.9M363.8 100.1h.9M376.9 103.3h.9M362.9 104.7h.9M386.4 99.3h.9M381.2 105.5h.9M374.9 92.8h.9M376.3 99.0h.9M377.9 110.4h.9M371.7 96.0h.9M383.1 97.3h.9M359.4 98.8h.9M380.8 89.0h.9M387.6 106.9h.9M360.6 98.4h.9M375.1 100.0h.9M374.0 100.7h.9M363.9 95.9h.9M370.4 99.4h.9M389.9 101.6h.9M361.3 99.1h.9M389.6 107.5h.9M387.6 97.7h.9M378.5 98.1h.9M360.6 97.5h.9M367.5 90.8h.9M369.9 95.2h.9M369.0 100.9h.9M361.2 97.6h.9M374.9 98.6h.9M374.0 97.6h.9M356.3 86.7h.9M365.8 95.2h.9M362.5 93.3h.9M367.5 105.8h.9M370.3 101.3h.9M377.8 98.0h.9M380.6 94.3h.9M369.6 91.2h.9M370.1 101.7h.9M362.9 96.8h.9M368.9 96.9h.9M367.4 98.6h.9M359.4 97.8h.9M387.3 91.6h.9M379.1 93.6h.9M365.9 106.3h.9M377.8 100.3h.9M387.1 100.5h.9M370.3 85.6h.9M378.1 105.8h.9M367.1 91.1h.9M354.9 100.1h.9M379.1 94.8h.9M361.2 95.7h.9M386.2 91.3h.9M363.6 99.8h.9M365.2 103.7h.9M364.3 91.0h.9M356.9 96.0h.9M381.8 97.2h.9M365.7 89.4h.9M373.7 93.7h.9M393.4 91.1h.9M358.2 90.6h.9M373.0 100.0h.9M373.4 103.0h.9M377.9 94.1h.9M387.4 93.2h.9M373.2 97.3h.9M382.2 96.9h.9M374.4 87.2h.9M370.4 97.8h.9M385.7 88.4h.9M359.7 101.3h.9M393.4 97.9h.9M350.9 88.1h.9M367.6 92.6h.9M375.9 102.4h.9M378.7 92.4h.9M364.5 96.1h.9M375.2 99.9h.9M367.4 102.3h.9M378.1 95.6h.9M373.1 105.1h.9M377.4 95.6h.9M368.0 101.9h.9M374.9 97.8h.9M364.2 95.8h.9M372.8 106.0h.9M358.8 97.7h.9M362.3 90.2h.9M393.2 90.7h.9M382.9 102.3h.9M375.7 97.4h.9M370.8 99.6h.9M375.0 100.0h.9M377.4 88.9h.9M359.0 96.9h.9M370.8 90.3h.9M380.3 99.6h.9M374.1 102.4h.9M377.2 96.5h.9M365.5 102.9h.9M366.6 93.4h.9M362.2 100.6h.9M373.7 96.3h.9M380.4 92.9h.9M379.2 94.5h.9M369.8 96.1h.9M373.4 104.1h.9M365.5 102.3h.9M383.1 96.3h.9M365.0 91.4h.9M370.6 111.6h.9M369.5 97.8h.9M362.2 99.3h.9M373.7 102.1h.9M391.3 102.2h.9M363.3 96.5h.9M358.9 95.0h.9M357.7 102.8h.9M350.3 100.1h.9M372.5 89.4h.9M378.7 103.7h.9M388.3 95.8h.9M378.5 98.1h.9M385.0 97.1h.9M381.9 92.0h.9M364.9 91.6h.9M369.5 90.8h.9M372.7 94.2h.9M357.8 98.3h.9M382.1 99.7h.9M374.5 95.9h.9M369.5 89.1h.9M390.0 88.7h.9M362.7 91.9h.9M360.9 97.9h.9M364.1 94.3h.9M374.6 91.0h.9M360.5 99.4h.9M366.4 87.8h.9M376.9 89.8h.9M371.0 97.1h.9M373.9 98.4h.9M367.2 96.9h.9M355.3 98.4h.9M353.0 100.7h.9M364.0 101.4h.9M370.5 99.6h.9M366.7 95.8h.9M375.7 100.3h.9M367.4 83.2h.9M372.4 100.6h.9M383.3 95.7h.9M381.3 79.0h.9M367.1 93.8h.9M390.9 95.8h.9M395.9 97.2h.9M366.9 94.1h.9M363.1 97.7h.9M372.5 92.0h.9M388.1 102.4h.9M368.1 99.7h.9M369.4 94.5h.9M362.9 93.7h.9M388.1 105.6h.9M369.9 95.4h.9M382.0 92.8h.9M378.2 89.3h.9M375.0 100.8h.9M379.1 105.1h.9M382.7 94.9h.9M357.9 85.2h.9M360.8 96.3h.9M365.6 111.3h.9M375.4 99.3h.9M372.3 96.1h.9M374.7 102.8h.9M371.8 101.9h.9M384.9 98.2h.9M378.0 98.9h.9M382.8 101.6h.9M373.5 103.2h.9M383.0 98.3h.9M359.6 106.1h.9M373.8 100.9h.9M373.3 95.7h.9M360.1 97.3h.9M369.5 99.9h.9M368.7 97.0h.9M378.8 97.2h.9M365.7 99.7h.9M368.6 92.0h.9M361.2 92.8h.9M365.6 85.8h.9M357.4 94.1h.9M384.2 95.6h.9M387.9 89.5h.9M402.6 97.1h.9M415.0 93.2h.9M393.3 99.0h.9M405.9 85.5h.9M380.7 90.1h.9M400.8 99.0h.9M391.9 91.5h.9M384.3 88.8h.9M388.5 94.6h.9M380.9 101.5h.9M382.0 96.5h.9M380.6 100.9h.9M387.6 87.6h.9M381.2 99.5h.9M390.2 86.7h.9M393.6 87.8h.9M381.6 95.8h.9M387.1 84.0h.9M385.9 101.6h.9M419.5 91.2h.9M390.4 84.8h.9M395.4 106.0h.9M383.0 92.8h.9M402.0 88.6h.9M406.3 87.5h.9M386.2 98.3h.9M381.8 93.1h.9M393.9 104.5h.9M385.9 90.7h.9M398.4 100.1h.9M399.7 94.7h.9M385.0 100.2h.9M386.5 104.1h.9M380.6 92.4h.9M379.4 88.4h.9M395.1 92.0h.9M380.8 97.4h.9M400.1 92.7h.9M409.2 83.0h.9M383.9 93.5h.9M388.4 91.0h.9M413.7 90.1h.9M382.7 97.7h.9M400.0 97.7h.9M399.5 95.3h.9M387.7 103.6h.9M387.0 98.5h.9M379.7 92.4h.9M395.0 101.3h.9M413.5 92.0h.9M396.1 88.6h.9M387.3 96.3h.9M394.7 91.6h.9M380.5 95.5h.9M382.7 94.9h.9M378.8 94.3h.9M404.3 95.3h.9M405.3 93.3h.9M381.1 91.6h.9M390.7 89.8h.9M398.8 95.3h.9M392.4 97.7h.9M380.4 87.8h.9M412.5 91.4h.9M380.9 93.9h.9M396.2 95.1h.9M386.8 82.9h.9M379.3 97.8h.9M406.6 81.7h.9M389.3 103.1h.9M389.7 100.0h.9M393.6 88.2h.9M390.2 92.4h.9M395.0 95.6h.9M396.6 94.5h.9M412.9 85.5h.9M404.0 96.4h.9M392.0 100.4h.9M382.8 94.7h.9M398.9 90.4h.9M389.4 102.3h.9M385.5 98.5h.9M379.7 111.8h.9M390.8 89.9h.9M388.3 84.8h.9M379.2 90.6h.9M391.4 94.3h.9M410.0 99.5h.9M391.3 98.6h.9M386.3 91.9h.9M381.2 96.0h.9M388.2 101.5h.9M396.1 86.9h.9M400.7 87.8h.9M396.9 112.9h.9M394.7 97.4h.9M380.5 97.9h.9M392.4 114.7h.9M392.1 94.6h.9M403.2 94.5h.9M398.5 96.8h.9M382.0 101.5h.9M380.7 92.6h.9M379.6 97.4h.9M384.1 101.2h.9M383.7 98.3h.9M383.8 97.9h.9M389.3 94.0h.9M382.3 98.3h.9M382.3 92.9h.9M391.4 98.5h.9M407.2 86.8h.9M397.9 96.8h.9M407.6 100.1h.9M378.9 92.3h.9M383.3 93.4h.9M390.8 96.3h.9M389.0 94.0h.9M389.7 94.6h.9M385.9 96.6h.9M382.5 90.0h.9M400.6 94.1h.9M378.9 101.0h.9M399.6 100.6h.9M380.5 89.9h.9M387.6 93.1h.9M398.9 92.1h.9M383.4 90.9h.9M399.4 90.3h.9M403.4 92.4h.9M382.2 107.5h.9M386.1 103.1h.9M388.1 101.0h.9M381.4 95.7h.9M385.7 103.5h.9M391.1 87.8h.9M387.9 86.9h.9M385.5 94.1h.9M390.3 94.4h.9M396.4 95.5h.9M395.2 94.2h.9M379.9 88.2h.9M397.0 97.0h.9M400.4 94.2h.9M388.2 109.0h.9M395.5 82.6h.9M390.1 89.1h.9M396.7 96.7h.9M391.0 106.9h.9M410.1 107.4h.9M387.2 101.8h.9M388.6 92.6h.9M382.5 95.3h.9M383.4 94.4h.9M399.3 86.1h.9M384.3 86.3h.9M386.1 103.7h.9M401.6 98.6h.9M381.0 92.6h.9M384.7 97.3h.9M390.1 87.4h.9M397.8 98.2h.9M385.4 93.6h.9M388.6 93.3h.9M384.8 96.6h.9M379.0 92.9h.9M388.8 90.8h.9M402.6 100.3h.9M382.3 99.6h.9M391.3 95.9h.9M395.6 97.0h.9M384.0 95.2h.9M409.9 94.1h.9M400.0 99.4h.9M394.5 90.3h.9M379.2 92.5h.9M382.9 103.9h.9M418.4 91.6h.9M381.0 105.6h.9M382.1 102.4h.9M388.3 116.2h.9M391.1 100.4h.9M403.5 100.8h.9M402.8 100.6h.9M379.3 101.5h.9M392.1 97.2h.9M392.3 94.0h.9M390.8 104.8h.9M381.8 107.1h.9M407.5 91.5h.9M403.9 97.2h.9M385.1 85.6h.9M384.9 95.0h.9M387.4 88.7h.9M404.1 95.4h.9M384.6 101.9h.9M400.2 85.0h.9M409.8 93.1h.9M379.8 103.4h.9M395.1 94.3h.9M391.2 98.6h.9M391.8 93.1h.9M401.5 85.6h.9M411.9 92.4h.9M380.7 96.7h.9M409.9 85.5h.9M383.9 102.0h.9M396.5 105.7h.9M397.1 91.9h.9M404.9 86.8h.9M397.4 94.3h.9M391.4 97.6h.9M399.8 93.1h.9M385.1 96.4h.9M381.5 95.3h.9M388.8 96.7h.9M386.9 99.0h.9M381.2 103.4h.9M386.9 99.4h.9M379.9 94.0h.9M387.4 90.8h.9M384.7 106.8h.9M388.8 100.2h.9M388.0 96.1h.9M394.8 92.6h.9M397.0 98.5h.9M385.9 98.2h.9M392.3 88.9h.9M391.1 107.0h.9M382.8 103.2h.9M385.0 84.4h.9M386.7 113.6h.9M381.5 101.5h.9M397.8 94.4h.9M394.9 93.6h.9M380.7 92.1h.9M399.3 98.7h.9M387.5 93.1h.9M389.0 101.5h.9M380.6 104.2h.9M388.8 94.3h.9M393.9 84.0h.9M392.5 96.0h.9M392.6 100.9h.9M386.8 91.1h.9M379.5 108.6h.9M389.2 102.7h.9M380.4 89.4h.9M384.0 104.6h.9M390.1 103.8h.9M386.2 85.4h.9M379.7 93.7h.9M381.4 105.9h.9M399.4 84.9h.9M383.5 97.3h.9M382.8 97.5h.9M391.5 94.4h.9M410.5 97.0h.9M391.3 98.0h.9M382.1 87.3h.9M386.1 111.9h.9M405.0 98.1h.9M397.7 99.3h.9M383.6 95.9h.9M396.9 91.7h.9M398.5 93.3h.9M379.2 100.3h.9M387.1 94.9h.9M401.0 107.5h.9M382.8 100.4h.9M387.2 89.7h.9M389.8 92.8h.9M379.4 90.5h.9M412.2 93.1h.9M383.6 102.2h.9M395.3 96.5h.9M397.9 89.9h.9M391.4 103.0h.9M385.5 90.6h.9M380.0 101.6h.9M384.5 94.4h.9M381.7 101.8h.9M387.9 86.5h.9M386.8 95.2h.9M381.8 98.4h.9M395.3 95.2h.9M384.5 92.4h.9M380.0 100.3h.9M396.0 101.4h.9M391.2 94.0h.9M386.9 99.8h.9M379.7 93.0h.9M407.2 93.5h.9M379.1 97.4h.9M380.6 95.1h.9M387.2 89.7h.9M395.5 99.6h.9M403.4 95.7h.9M380.8 95.3h.9M384.3 108.2h.9M381.4 100.0h.9M393.9 77.6h.9M388.4 95.7h.9M380.1 97.5h.9M388.5 99.8h.9M403.0 92.0h.9M384.9 102.1h.9M387.0 95.1h.9M387.7 97.5h.9M379.9 98.5h.9M418.5 90.3h.9M394.4 96.6h.9M405.4 90.4h.9M407.1 101.6h.9M390.2 94.5h.9M411.6 86.3h.9M394.1 113.7h.9M401.0 94.7h.9M391.0 99.3h.9M384.2 92.9h.9M393.4 94.4h.9M402.4 90.2h.9M387.5 105.1h.9M381.4 86.0h.9M384.3 101.6h.9M392.7 92.2h.9M397.7 96.5h.9M379.0 93.5h.9M380.4 100.0h.9M388.7 95.5h.9M387.8 94.3h.9M402.8 98.0h.9M379.9 99.4h.9M381.4 106.4h.9M399.7 107.1h.9M385.7 100.7h.9M392.1 95.8h.9M380.6 99.6h.9M403.5 94.1h.9M408.0 107.2h.9M388.8 91.9h.9M386.7 100.0h.9M392.6 99.6h.9M404.7 92.0h.9M381.9 97.4h.9M390.5 92.6h.9M383.4 83.9h.9M380.4 100.7h.9M381.0 91.5h.9M379.3 96.9h.9M392.6 92.2h.9M381.1 100.7h.9M407.4 88.2h.9M383.5 101.6h.9M385.9 101.1h.9M406.9 104.8h.9M392.8 96.2h.9M398.3 92.5h.9M390.6 104.5h.9M386.3 97.8h.9M387.3 93.9h.9M388.4 82.2h.9M390.8 105.0h.9M381.0 91.1h.9M385.7 94.6h.9M420.0 90.8h.9M408.9 92.0h.9M396.3 100.5h.9M402.1 95.5h.9M380.9 86.9h.9M379.2 92.6h.9M393.9 86.4h.9M378.8 93.1h.9M381.0 96.4h.9M399.9 93.2h.9M379.2 105.4h.9M386.0 103.6h.9M385.4 84.3h.9M400.5 93.8h.9M396.1 93.5h.9M380.9 98.1h.9M409.7 83.1h.9M383.2 93.0h.9M385.6 93.4h.9M390.3 105.8h.9M380.7 96.4h.9M382.9 86.9h.9M381.3 93.4h.9M393.2 103.9h.9M381.2 100.4h.9M387.7 96.6h.9M379.3 100.6h.9M380.2 99.7h.9M390.2 98.8h.9M384.6 99.4h.9M383.3 97.9h.9M379.9 98.7h.9M379.1 93.8h.9M386.6 96.9h.9M395.2 80.0h.9M380.4 94.3h.9M381.6 100.2h.9M383.3 94.8h.9M380.7 86.1h.9M386.5 90.5h.9M390.7 98.7h.9M388.5 90.1h.9M383.0 90.1h.9M389.7 88.8h.9M380.6 103.3h.9M382.3 110.5h.9M393.1 97.4h.9M397.1 98.8h.9M396.4 100.9h.9M386.7 99.9h.9M380.9 99.0h.9M383.9 96.5h.9M397.3 89.7h.9M396.8 91.6h.9M394.2 93.4h.9M391.4 94.0h.9M387.5 103.5h.9M389.8 79.3h.9M395.7 90.6h.9M384.0 104.1h.9M394.1 106.0h.9M379.1 90.9h.9M392.6 107.4h.9M384.2 97.4h.9M386.3 90.5h.9M400.5 103.1h.9M381.0 100.7h.9M389.8 95.0h.9M386.8 102.1h.9M396.7 91.6h.9M404.4 99.3h.9M408.6 87.8h.9M405.4 96.1h.9M382.4 86.9h.9M381.7 87.6h.9M387.8 110.0h.9M381.7 92.2h.9M388.1 95.2h.9M380.5 105.5h.9M379.8 97.5h.9M393.9 89.6h.9M381.6 95.9h.9M381.4 99.7h.9M401.9 88.9h.9M388.3 101.8h.9M386.4 88.2h.9M397.2 96.0h.9M379.9 99.0h.9M388.4 102.2h.9M397.9 105.2h.9M379.2 97.9h.9M392.1 88.3h.9M379.2 90.2h.9M398.0 90.3h.9M403.0 90.1h.9M381.0 103.3h.9M384.3 104.9h.9M391.3 100.2h.9M384.9 99.3h.9M399.0 89.6h.9M383.2 99.2h.9M394.3 89.7h.9M405.5 90.8h.9M402.3 90.8h.9M407.5 85.5h.9M395.3 92.4h.9M382.2 101.9h.9M386.3 99.9h.9M380.0 100.8h.9M393.8 100.3h.9M403.5 98.9h.9M384.0 82.2h.9M384.7 94.8h.9M397.3 83.2h.9M385.7 98.0h.9M387.9 96.6h.9M407.7 89.9h.9M379.5 97.4h.9M402.1 102.4h.9M387.2 103.4h.9M388.6 101.0h.9M402.1 83.5h.9M393.0 98.1h.9M384.6 85.7h.9M387.1 92.5h.9M389.3 96.7h.9M408.2 89.2h.9M395.8 90.8h.9M397.1 102.1h.9M395.3 94.0h.9M390.1 89.8h.9M379.4 110.5h.9M392.6 98.6h.9M396.0 91.5h.9M386.5 98.9h.9M395.9 102.7h.9M387.3 88.2h.9M392.3 93.8h.9M383.1 105.1h.9M399.8 90.7h.9M396.2 86.1h.9M399.8 96.1h.9M379.2 106.4h.9M384.9 85.4h.9M383.9 102.1h.9M394.0 105.3h.9M384.0 88.8h.9M402.0 91.6h.9M387.7 97.2h.9M403.4 91.5h.9M397.9 95.3h.9M381.5 101.1h.9M399.5 98.0h.9M383.1 92.1h.9M384.1 102.7h.9M383.9 106.7h.9M378.8 101.8h.9M403.2 101.5h.9M380.3 93.8h.9M381.7 98.3h.9M389.3 88.0h.9M384.7 100.8h.9M381.4 95.1h.9M381.9 85.0h.9M386.0 91.7h.9M380.8 82.7h.9M398.1 91.9h.9M406.4 85.7h.9M400.5 93.3h.9M386.3 96.5h.9M394.3 95.9h.9M386.0 89.7h.9M379.1 101.1h.9M378.7 88.9h.9M379.8 92.8h.9M385.6 97.3h.9M385.1 101.5h.9M384.3 111.7h.9M392.8 100.2h.9M404.7 101.6h.9M402.1 102.1h.9M384.3 101.8h.9M395.8 100.4h.9M398.6 99.1h.9M390.4 94.8h.9M392.5 87.7h.9M409.0 99.5h.9M397.6 87.2h.9M390.8 93.1h.9M389.6 100.7h.9M398.2 90.4h.9M398.0 101.7h.9M384.5 89.9h.9M396.7 85.0h.9M402.1 99.7h.9M402.4 89.9h.9M383.5 93.6h.9M386.1 103.9h.9M385.8 100.6h.9M394.8 95.4h.9M394.0 95.4h.9M381.7 102.6h.9M381.4 95.9h.9M387.4 102.8h.9M393.8 102.7h.9M382.3 98.3h.9M399.9 89.4h.9M391.2 89.1h.9M381.6 100.0h.9M400.0 98.1h.9M395.8 97.0h.9M410.7 101.1h.9M379.6 103.1h.9M390.9 81.5h.9M389.7 100.9h.9M387.9 90.0h.9M386.3 99.2h.9M379.2 97.3h.9M407.9 99.2h.9M392.8 85.4h.9M383.2 102.0h.9M383.1 95.8h.9M391.6 98.1h.9M379.5 87.4h.9M417.6 92.5h.9M404.8 85.7h.9M386.9 93.7h.9M390.4 95.6h.9M401.3 88.7h.9M396.0 100.7h.9M394.5 87.0h.9M390.6 102.4h.9M390.8 100.0h.9M387.7 100.6h.9M393.7 99.6h.9M392.7 100.5h.9M399.4 99.3h.9M395.4 96.9h.9M404.8 94.6h.9M401.8 91.0h.9M394.7 97.3h.9M378.8 94.5h.9M389.2 101.6h.9M386.3 102.4h.9M383.5 99.3h.9M392.2 92.1h.9M391.7 101.2h.9M381.5 104.7h.9M388.6 105.0h.9M379.5 96.6h.9M391.6 104.7h.9M392.0 104.8h.9M400.7 83.9h.9M378.8 90.4h.9M384.9 96.7h.9M381.8 101.4h.9M386.4 85.8h.9M396.0 87.5h.9M398.0 98.8h.9M380.2 97.7h.9M409.0 92.1h.9M411.0 94.0h.9M387.3 99.3h.9M387.2 101.7h.9M381.3 99.5h.9M392.9 109.8h.9M381.6 90.3h.9M380.3 104.1h.9M389.0 103.5h.9M382.6 105.2h.9M379.9 91.8h.9M382.1 104.6h.9M406.4 88.5h.9M385.0 89.9h.9M405.0 94.8h.9M385.4 94.9h.9M384.1 98.6h.9M391.2 86.2h.9M381.9 95.1h.9M380.9 97.4h.9M388.8 86.4h.9M385.8 105.7h.9M386.6 97.3h.9M388.0 94.1h.9M399.4 83.2h.9M380.3 90.0h.9M392.3 98.4h.9M393.4 104.6h.9M403.9 93.1h.9M389.5 96.5h.9M379.0 100.1h.9M382.0 89.4h.9M409.3 105.2h.9M387.9 100.5h.9M380.7 101.8h.9M378.8 104.5h.9M393.4 98.9h.9M385.7 91.3h.9M392.7 90.9h.9M397.7 92.4h.9M391.5 93.2h.9M382.2 100.6h.9M381.7 93.9h.9M385.9 108.0h.9M400.2 98.6h.9M386.9 98.9h.9M406.6 90.1h.9M380.5 100.1h.9M384.1 95.6h.9M391.2 93.9h.9M380.6 98.7h.9M397.8 95.7h.9M394.9 102.3h.9M406.3 93.3h.9M405.2 88.2h.9M391.4 97.9h.9M388.6 91.1h.9M389.5 97.2h.9M382.7 98.9h.9M400.6 84.5h.9M390.3 95.3h.9M380.4 99.4h.9M400.6 101.9h.9M386.8 101.1h.9M386.4 105.4h.9M392.0 110.1h.9M412.5 95.7h.9M392.3 99.3h.9M389.7 95.9h.9M394.3 91.6h.9M407.8 90.6h.9M393.8 85.4h.9M387.9 99.6h.9M382.8 103.9h.9M381.0 110.1h.9M382.4 102.6h.9M389.4 99.0h.9M383.0 89.5h.9M382.6 91.0h.9M393.3 85.4h.9M407.5 102.5h.9M388.2 94.1h.9M407.4 90.1h.9M382.6 109.1h.9M387.7 107.0h.9M404.5 104.9h.9M389.1 91.7h.9M399.4 95.6h.9M390.1 93.7h.9M392.1 92.4h.9M389.1 95.1h.9M380.8 89.1h.9M400.2 106.6h.9M380.0 100.2h.9M381.3 90.3h.9M384.0 90.3h.9M401.1 91.4h.9M384.9 93.7h.9M391.7 100.3h.9M393.8 104.6h.9M386.2 101.2h.9M388.9 98.5h.9M386.3 100.0h.9M381.5 101.6h.9M379.8 93.7h.9M400.3 94.6h.9M406.1 95.8h.9M379.1 92.3h.9M384.0 97.3h.9M381.7 95.4h.9M394.1 90.2h.9M387.5 90.4h.9M394.6 97.5h.9M378.9 94.1h.9M380.6 104.0h.9M396.4 99.6h.9M409.3 104.2h.9M386.2 110.0h.9M405.9 95.5h.9M388.5 99.1h.9M407.9 100.3h.9M390.7 101.3h.9M383.0 89.6h.9M388.4 72.8h.9M382.3 92.1h.9M387.2 103.2h.9M378.7 79.4h.9M393.6 86.6h.9M396.9 88.9h.9M397.2 87.0h.9M383.7 100.4h.9M410.9 102.7h.9M389.4 106.5h.9M385.1 105.8h.9M409.9 80.3h.9M396.8 91.5h.9M393.0 106.2h.9M380.5 100.0h.9M390.3 90.0h.9M388.1 97.0h.9M398.8 90.6h.9M388.4 91.3h.9M396.4 96.1h.9M381.1 97.4h.9M390.3 92.5h.9M392.5 86.7h.9M388.2 88.9h.9M379.7 105.1h.9M384.4 92.3h.9M384.2 97.0h.9M386.0 90.4h.9M383.3 106.2h.9M381.8 92.5h.9M398.4 95.4h.9M384.7 95.6h.9M385.2 88.3h.9M379.3 96.0h.9M382.1 97.8h.9M420.8 86.8h.9M383.3 88.4h.9M379.8 93.6h.9M393.4 94.9h.9M380.7 97.2h.9M408.5 100.9h.9M384.5 103.4h.9M382.3 86.6h.9M400.1 98.3h.9M383.7 92.9h.9M393.4 100.9h.9M385.5 88.7h.9M389.6 96.8h.9M397.4 104.9h.9M387.5 92.8h.9M390.1 93.7h.9M401.2 92.8h.9M389.5 91.6h.9M396.6 103.3h.9M390.9 106.9h.9M382.0 84.3h.9M398.0 91.1h.9M390.5 96.7h.9M382.5 98.2h.9M383.9 96.0h.9M387.3 96.2h.9M388.8 106.4h.9M399.7 94.2h.9M385.7 93.7h.9M406.7 100.2h.9M391.8 98.4h.9M379.1 101.4h.9M392.9 103.8h.9M401.7 110.1h.9M388.9 104.8h.9M395.5 103.4h.9M418.6 99.6h.9M378.9 107.2h.9M379.8 97.9h.9M386.2 95.5h.9M380.7 92.5h.9M396.4 97.6h.9M397.1 90.6h.9M379.7 94.9h.9M401.1 88.4h.9M378.6 96.3h.9M381.2 100.8h.9M387.4 92.8h.9M386.8 98.8h.9M379.5 93.8h.9M403.1 96.8h.9M385.5 99.7h.9M388.3 95.7h.9M382.5 85.3h.9M379.1 99.0h.9M380.2 97.5h.9M400.3 82.3h.9M393.8 91.3h.9M390.7 92.7h.9M398.7 92.8h.9M385.8 92.0h.9M388.4 101.4h.9M391.0 97.4h.9M408.0 93.3h.9M416.2 83.5h.9M394.8 110.0h.9M395.1 120.7h.9M387.8 118.7h.9M394.7 117.4h.9M388.8 123.3h.9M399.4 115.3h.9M397.9 115.8h.9M393.9 125.4h.9M381.5 122.5h.9M393.6 122.1h.9M387.3 123.3h.9M394.7 122.8h.9M406.4 128.7h.9M390.6 121.6h.9M410.4 123.3h.9M401.0 114.0h.9M375.8 128.1h.9M399.9 116.6h.9M389.6 112.8h.9M405.4 118.2h.9M392.1 127.6h.9M387.6 123.6h.9M400.0 122.7h.9M383.7 123.4h.9M383.2 130.1h.9M393.0 118.8h.9M392.5 127.5h.9M388.9 125.3h.9M388.4 118.7h.9M397.5 127.4h.9M385.3 130.2h.9M394.4 120.0h.9M398.1 117.8h.9M416.0 129.2h.9M387.9 121.9h.9M392.7 122.7h.9M377.0 114.1h.9M393.0 121.5h.9M406.7 128.8h.9M398.0 122.3h.9M389.2 120.3h.9M383.4 123.4h.9M384.6 121.7h.9M386.5 124.1h.9M402.2 122.7h.9M384.7 126.5h.9M390.9 118.1h.9M385.8 123.0h.9M381.1 127.6h.9M392.1 120.9h.9M400.3 125.4h.9M389.1 124.9h.9M397.4 127.1h.9M381.5 125.3h.9M387.6 122.1h.9M385.3 129.0h.9M382.7 128.1h.9M400.0 121.8h.9M389.7 129.0h.9M407.3 123.1h.9M387.0 125.3h.9M396.0 121.8h.9M397.6 126.0h.9M389.3 119.0h.9M396.2 112.9h.9M378.8 114.8h.9M384.9 122.5h.9M385.1 120.3h.9M396.2 114.0h.9M401.0 125.5h.9M376.5 114.5h.9M394.5 124.9h.9M389.4 117.0h.9M406.7 127.8h.9M394.2 125.9h.9M386.7 122.3h.9M389.3 119.5h.9M392.4 117.4h.9M403.9 119.4h.9M397.5 126.5h.9M398.5 125.8h.9M386.0 129.4h.9M399.6 117.7h.9M389.4 122.0h.9M378.2 124.1h.9M385.3 113.7h.9M408.4 124.0h.9M387.2 124.7h.9M379.4 119.5h.9M406.0 121.5h.9M397.8 119.9h.9M382.5 130.0h.9M397.8 117.5h.9M384.1 121.7h.9M386.7 117.2h.9M386.7 118.4h.9M395.9 124.5h.9M383.6 122.1h.9M383.8 128.0h.9M393.6 126.6h.9M387.6 121.4h.9M404.2 123.6h.9M387.0 120.0h.9M397.1 124.0h.9M381.5 129.9h.9M393.9 124.9h.9M388.0 122.3h.9M380.5 121.0h.9M383.3 127.8h.9M399.7 120.4h.9M380.8 115.1h.9M397.2 127.0h.9M405.0 125.0h.9M392.8 122.0h.9M376.2 126.7h.9M385.2 123.3h.9M380.9 126.0h.9M399.5 126.4h.9M378.9 124.7h.9M392.4 128.5h.9M399.5 128.5h.9M388.8 126.9h.9M399.3 115.4h.9M380.8 128.3h.9M403.9 129.9h.9M378.3 126.1h.9M398.1 127.1h.9M396.8 125.6h.9M394.4 125.1h.9M384.8 123.6h.9M379.5 118.8h.9M389.4 119.2h.9M382.5 120.3h.9M377.2 110.5h.9M395.1 130.1h.9M390.7 120.1h.9M399.9 125.4h.9M374.8 123.2h.9M389.1 119.3h.9M394.0 116.5h.9M388.7 127.1h.9M397.2 119.4h.9M377.0 122.6h.9M388.5 122.6h.9M385.4 118.0h.9M397.8 127.2h.9M395.7 122.5h.9M382.5 121.0h.9M390.1 116.8h.9M392.0 125.6h.9M382.3 127.9h.9M395.5 112.6h.9M384.4 122.9h.9M398.0 126.0h.9M389.2 125.0h.9M393.2 129.0h.9M390.5 123.1h.9M381.7 123.8h.9M382.7 126.0h.9M388.9 119.9h.9M395.3 123.3h.9M384.5 130.2h.9M392.9 125.7h.9M381.1 129.7h.9M394.3 117.8h.9M385.6 129.6h.9M398.0 123.1h.9M390.6 124.5h.9M402.9 120.9h.9M389.6 128.2h.9M391.0 128.6h.9M388.8 122.4h.9M381.6 123.2h.9M375.5 117.8h.9M389.4 119.2h.9M389.8 123.1h.9M386.9 126.2h.9M383.8 118.6h.9M385.8 122.6h.9M401.7 128.4h.9M375.1 114.9h.9M376.2 126.2h.9M385.2 129.0h.9M390.8 119.1h.9M384.3 124.5h.9M399.9 122.2h.9M382.6 124.1h.9M380.6 126.0h.9M392.2 127.8h.9M379.8 129.1h.9M389.3 123.0h.9M408.9 126.2h.9M392.2 123.2h.9M388.8 123.2h.9M379.6 124.2h.9M390.3 121.9h.9M387.4 122.7h.9M379.6 120.2h.9M414.9 117.4h.9M395.3 116.9h.9M378.9 128.1h.9M403.0 122.5h.9M396.1 128.5h.9M384.2 128.0h.9M383.9 117.5h.9M374.9 123.9h.9M389.1 125.7h.9M377.2 125.9h.9M387.2 118.8h.9M394.2 121.8h.9M394.1 120.1h.9M405.4 126.3h.9M385.8 124.2h.9M376.5 128.3h.9M404.1 124.1h.9M391.3 128.2h.9M393.1 123.2h.9M412.0 129.4h.9M393.4 117.9h.9M377.5 122.8h.9M377.1 116.6h.9M394.7 127.0h.9M382.6 123.5h.9M399.7 127.9h.9M406.8 122.7h.9M384.8 127.6h.9M407.0 122.9h.9M385.1 122.5h.9M399.8 129.4h.9M378.6 128.8h.9M396.3 129.9h.9M383.7 123.4h.9M393.7 126.2h.9M378.7 127.3h.9M394.6 122.6h.9M392.7 129.1h.9M388.7 124.1h.9M378.2 123.4h.9M381.6 118.9h.9M398.1 125.9h.9M391.8 124.6h.9M402.2 115.5h.9M404.1 121.5h.9M379.5 119.9h.9M379.8 123.0h.9M396.3 119.8h.9M396.6 121.2h.9M385.2 118.3h.9M389.3 125.6h.9M384.9 121.7h.9M394.8 119.2h.9M387.2 119.8h.9M394.7 121.6h.9M392.1 123.5h.9M387.8 119.6h.9M401.1 121.2h.9M387.2 117.6h.9M389.3 119.7h.9M377.9 128.5h.9M396.2 125.1h.9M390.5 126.4h.9M388.5 124.7h.9M378.7 121.9h.9M386.9 111.4h.9M376.5 119.6h.9M408.8 116.1h.9M378.6 126.0h.9M388.4 127.8h.9M386.8 123.9h.9M388.7 123.4h.9M388.8 122.6h.9M390.4 128.5h.9M395.8 124.0h.9M403.2 126.0h.9M391.8 130.1h.9M405.2 124.2h.9M391.7 122.8h.9M408.0 122.0h.9M384.4 128.7h.9M394.8 123.7h.9M397.1 125.1h.9M388.5 125.4h.9M394.4 124.8h.9M393.6 124.5h.9M394.0 119.3h.9M405.6 128.6h.9M391.9 126.6h.9M406.9 126.1h.9M376.0 125.6h.9M403.2 118.6h.9M386.2 123.5h.9M387.2 125.9h.9M399.0 123.1h.9M380.0 121.6h.9M387.9 127.8h.9M399.1 121.3h.9M385.2 117.2h.9M393.3 122.3h.9M403.8 125.9h.9M376.5 124.1h.9M386.5 129.6h.9M387.8 124.4h.9M382.9 119.0h.9M390.3 122.4h.9M390.7 128.1h.9M392.8 123.9h.9M392.0 118.5h.9M384.9 121.1h.9M407.5 117.8h.9M385.0 126.3h.9M383.9 126.8h.9M377.2 128.5h.9M390.7 113.4h.9M374.6 117.7h.9M386.1 122.0h.9M391.9 126.7h.9M394.6 125.9h.9M380.5 116.7h.9M376.6 125.5h.9M378.9 117.9h.9M379.9 125.6h.9M375.4 122.8h.9M395.8 127.6h.9M386.1 117.0h.9M382.4 123.6h.9M383.9 127.1h.9M384.6 123.9h.9M422.5 125.8h.9M396.9 123.8h.9M384.0 126.9h.9M374.5 124.2h.9M399.4 118.4h.9M407.7 128.4h.9M392.4 122.4h.9M397.9 114.0h.9M401.0 114.3h.9M383.5 130.0h.9M391.9 114.7h.9M383.3 119.6h.9M398.2 122.0h.9M406.0 130.1h.9M376.2 129.8h.9M401.7 118.1h.9M385.2 119.7h.9M378.5 123.4h.9M391.6 119.7h.9M401.8 129.1h.9M385.3 120.3h.9M399.2 119.3h.9M385.5 125.4h.9M389.2 124.8h.9M387.1 126.1h.9M391.7 123.9h.9M394.1 125.6h.9M395.6 125.9h.9M393.1 125.3h.9M380.0 121.3h.9M385.6 120.4h.9M383.8 120.4h.9M381.6 125.2h.9M388.5 123.9h.9M386.0 122.5h.9M394.2 125.7h.9M391.3 128.0h.9M384.1 127.1h.9M390.2 119.0h.9M401.1 119.2h.9M396.5 120.2h.9M381.6 129.0h.9M392.6 123.6h.9M380.7 115.5h.9M383.6 122.8h.9M397.4 123.5h.9M398.5 121.0h.9M397.6 127.6h.9M386.1 127.6h.9M405.2 117.1h.9M375.5 120.4h.9M382.9 119.1h.9M390.0 117.1h.9M406.5 123.2h.9M390.6 122.7h.9M382.9 124.2h.9M387.2 125.4h.9M396.0 119.7h.9M390.9 114.0h.9M393.0 124.1h.9M375.4 124.6h.9M397.8 123.2h.9M393.3 126.3h.9M400.2 129.2h.9M381.2 122.6h.9M388.9 118.9h.9M389.8 125.4h.9M391.7 114.7h.9M382.3 111.8h.9M389.5 123.5h.9M396.4 127.8h.9M379.2 123.1h.9M390.1 127.3h.9M400.0 122.7h.9M386.5 115.0h.9M390.3 119.6h.9M388.9 129.3h.9M387.9 119.8h.9M392.7 122.3h.9M389.6 128.3h.9M390.8 125.9h.9M388.0 124.2h.9M378.4 120.0h.9M398.7 129.8h.9M377.8 126.8h.9M397.3 119.8h.9M395.5 126.3h.9M388.8 125.4h.9M379.9 124.9h.9M388.9 122.6h.9M390.0 127.7h.9M397.8 127.2h.9M406.3 116.9h.9M387.2 123.2h.9M384.8 121.5h.9M374.9 122.1h.9M400.7 121.5h.9M388.4 125.6h.9M388.6 119.1h.9M383.7 129.1h.9M382.0 117.8h.9M407.5 124.3h.9M377.8 115.4h.9M381.3 117.5h.9M387.3 128.0h.9M396.4 121.9h.9M395.1 121.6h.9M380.8 119.1h.9M398.5 123.9h.9M397.3 128.2h.9M396.2 123.1h.9M409.0 118.9h.9M387.0 120.8h.9M397.0 128.8h.9M394.3 120.6h.9M390.3 116.8h.9M399.4 129.0h.9M387.0 126.4h.9M385.9 123.9h.9M390.4 122.7h.9M417.7 122.2h.9M398.9 119.5h.9M391.5 123.5h.9M380.7 127.6h.9M396.5 129.8h.9M393.0 118.8h.9M396.9 125.1h.9M407.0 112.6h.9M387.3 124.1h.9M399.2 118.1h.9M399.9 125.0h.9M380.5 125.8h.9M384.3 123.2h.9M381.3 125.9h.9M382.9 121.5h.9M387.4 126.6h.9M382.6 120.6h.9M401.2 130.1h.9M381.4 129.9h.9M395.9 123.3h.9M395.0 120.6h.9M377.8 122.4h.9M389.6 118.9h.9M381.5 114.4h.9M377.3 123.3h.9M382.3 124.3h.9M382.4 121.3h.9M386.3 127.8h.9M381.1 118.1h.9M391.5 121.6h.9M388.0 126.6h.9M394.8 127.3h.9M390.7 114.6h.9M392.7 128.5h.9M393.6 126.1h.9M394.8 116.6h.9M394.9 126.2h.9M386.1 121.4h.9M378.5 125.2h.9M392.1 127.0h.9M387.6 129.6h.9M381.6 128.9h.9M398.5 119.0h.9M394.2 119.0h.9M406.9 128.8h.9M389.8 125.4h.9M388.4 121.5h.9M378.0 123.3h.9M398.9 125.3h.9M400.2 128.5h.9M394.2 119.4h.9M379.2 121.9h.9M389.7 130.0h.9M410.7 124.5h.9M398.4 125.3h.9M380.1 128.1h.9M388.5 126.6h.9M398.6 122.6h.9M388.8 127.8h.9M403.5 130.2h.9M390.3 121.1h.9M398.5 120.6h.9M376.7 119.9h.9M388.4 120.3h.9M380.7 128.4h.9M377.6 118.0h.9M389.5 126.7h.9M383.7 119.1h.9M413.2 121.7h.9M415.7 120.3h.9M401.9 118.0h.9M405.4 126.4h.9M391.8 121.1h.9M390.0 124.9h.9M382.8 127.1h.9M386.4 126.5h.9M399.7 124.8h.9M405.4 120.3h.9M401.3 124.7h.9M390.5 126.2h.9M403.3 115.7h.9M390.3 123.6h.9M397.5 124.0h.9M385.1 125.2h.9M398.1 120.8h.9M391.5 123.5h.9M383.9 124.1h.9M409.5 121.8h.9M395.5 126.6h.9M401.7 122.5h.9M377.4 127.5h.9M399.5 127.0h.9M390.6 123.0h.9M384.7 128.2h.9M384.4 123.1h.9M394.6 122.7h.9M390.2 121.4h.9M400.2 127.9h.9M392.9 124.4h.9M398.0 126.2h.9M391.4 126.1h.9M391.0 118.9h.9M384.0 126.6h.9M385.0 119.3h.9M387.1 121.3h.9M390.6 129.6h.9M409.8 123.9h.9M394.3 119.3h.9M396.4 126.3h.9M383.2 127.3h.9M383.4 124.6h.9M392.2 124.3h.9M392.6 126.1h.9M383.6 125.0h.9M396.5 128.6h.9M381.1 122.0h.9M385.1 117.9h.9M383.5 122.5h.9M385.4 123.6h.9M379.3 127.1h.9M399.1 124.6h.9M403.7 116.0h.9M393.3 123.3h.9M391.8 120.3h.9M379.5 120.3h.9M389.7 126.7h.9M408.6 122.8h.9M385.4 119.2h.9M396.2 115.2h.9M384.1 126.2h.9M402.3 118.1h.9M390.8 129.4h.9M396.4 121.0h.9M397.8 120.8h.9M389.7 123.7h.9M383.7 129.1h.9M387.9 120.4h.9M389.1 123.7h.9M395.3 123.7h.9M398.3 121.9h.9M387.9 126.6h.9M381.5 124.9h.9M391.1 128.7h.9M385.9 124.3h.9M403.3 126.4h.9M375.3 122.5h.9M396.6 122.6h.9M392.9 128.1h.9M408.8 120.7h.9M384.7 128.6h.9M391.8 129.9h.9M391.2 117.6h.9M393.1 120.8h.9M392.4 116.3h.9M396.9 119.1h.9M385.2 128.0h.9M386.9 119.7h.9M403.8 122.4h.9M398.9 123.5h.9M393.0 123.2h.9M405.7 116.0h.9M382.0 126.9h.9M400.4 128.0h.9M379.7 125.5h.9M410.6 126.2h.9M395.6 127.5h.9M388.2 125.3h.9M393.0 124.6h.9M395.9 124.0h.9M383.6 129.3h.9M398.5 120.5h.9M395.2 119.9h.9M392.4 120.6h.9M383.2 125.9h.9M380.2 127.5h.9M405.2 122.8h.9M381.7 125.8h.9M386.9 116.8h.9M410.7 121.6h.9M407.5 128.1h.9M395.9 125.8h.9M386.0 126.9h.9M383.3 125.8h.9M380.6 124.1h.9M392.9 124.3h.9M392.2 126.4h.9M406.4 121.5h.9M391.3 124.0h.9M392.2 119.6h.9M396.5 120.7h.9M389.2 117.4h.9M385.4 126.1h.9M409.0 123.2h.9M388.2 122.7h.9M378.5 119.7h.9M381.8 119.0h.9M378.3 128.1h.9M396.5 122.4h.9M389.5 124.1h.9M394.1 125.8h.9M386.3 123.7h.9M399.2 120.1h.9M385.5 128.4h.9M409.6 121.1h.9M390.7 119.8h.9M390.1 123.0h.9M397.9 127.6h.9M393.3 124.2h.9M397.7 122.9h.9M382.9 126.2h.9M391.6 120.5h.9M392.3 123.2h.9M393.7 124.6h.9M396.0 122.4h.9M389.1 128.2h.9M401.8 124.7h.9M395.3 118.9h.9M384.7 123.2h.9M390.6 123.6h.9M399.2 130.1h.9M391.6 121.3h.9M378.5 127.9h.9M379.5 121.2h.9M395.1 121.2h.9M396.6 123.1h.9M383.6 128.2h.9M390.3 122.3h.9M403.9 119.3h.9M377.8 124.0h.9M388.7 115.0h.9M386.0 122.7h.9M380.3 124.8h.9M376.0 128.3h.9M380.9 116.2h.9M388.7 120.0h.9M383.0 119.9h.9M393.5 123.0h.9M393.0 124.9h.9M393.2 124.1h.9M377.0 127.0h.9M385.1 124.1h.9M390.2 124.5h.9M382.2 121.1h.9M379.7 122.4h.9M395.9 119.6h.9M374.8 124.1h.9M392.0 122.7h.9M383.3 127.3h.9M387.7 124.9h.9M377.8 129.6h.9M408.1 122.5h.9M393.0 121.3h.9M401.0 125.9h.9M391.1 123.4h.9M379.3 124.9h.9M392.4 115.2h.9M390.0 115.1h.9M404.1 124.4h.9M393.7 120.2h.9M406.9 125.6h.9M390.0 123.1h.9M380.6 122.1h.9M385.7 118.2h.9M399.7 116.5h.9M393.0 129.8h.9M391.4 125.5h.9M384.7 119.0h.9M406.2 117.0h.9M393.1 118.6h.9M394.3 126.8h.9M400.4 123.9h.9M389.3 122.4h.9M389.2 123.5h.9M397.0 122.9h.9M377.4 124.4h.9M413.4 117.7h.9M403.0 124.8h.9M399.4 127.0h.9M385.7 116.8h.9M393.7 119.0h.9M387.2 125.2h.9M396.5 124.4h.9M397.9 123.4h.9M403.9 121.8h.9M391.0 127.1h.9M393.6 116.6h.9M385.9 129.2h.9M383.8 116.8h.9M393.3 119.2h.9M401.4 120.8h.9M378.3 120.5h.9M391.8 124.1h.9M397.8 119.9h.9M384.0 125.5h.9M393.6 127.7h.9M393.0 126.2h.9M385.8 124.9h.9M400.0 119.7h.9M390.1 125.1h.9M390.2 124.4h.9M376.8 122.2h.9M398.4 118.7h.9M386.7 123.6h.9M397.6 120.5h.9M401.8 125.1h.9M391.4 122.7h.9M382.4 118.1h.9M396.2 123.6h.9M396.9 127.2h.9M380.1 124.3h.9M382.2 115.0h.9M398.3 124.2h.9M389.7 129.4h.9M377.6 129.1h.9M383.8 125.3h.9M389.4 119.8h.9M374.6 128.6h.9M384.6 125.5h.9M384.1 124.8h.9M386.9 123.4h.9M379.0 121.0h.9M392.5 122.1h.9M387.9 127.4h.9M388.7 118.9h.9M397.2 124.5h.9M393.2 124.4h.9M381.5 129.1h.9M376.8 124.1h.9M391.5 120.9h.9M393.1 126.2h.9M383.5 126.7h.9M389.6 126.8h.9M381.0 120.9h.9M384.2 121.4h.9M384.9 126.3h.9M392.2 120.2h.9M386.8 126.0h.9M381.2 122.1h.9M384.3 119.2h.9M378.6 120.1h.9M395.2 122.0h.9M392.4 121.1h.9M397.0 124.1h.9M383.6 125.1h.9M388.5 121.3h.9M382.8 125.1h.9M384.5 116.5h.9M391.6 117.9h.9M385.9 128.4h.9M391.8 122.2h.9M386.5 123.0h.9M375.1 129.9h.9M380.3 125.2h.9M404.7 125.9h.9M386.1 129.0h.9M397.3 116.1h.9M389.2 120.7h.9M380.9 122.1h.9M380.4 126.3h.9M397.6 116.7h.9M391.1 120.0h.9M392.8 129.0h.9M403.6 126.3h.9M382.7 127.7h.9M393.9 121.3h.9M410.6 124.4h.9M385.6 122.9h.9M389.9 119.9h.9M396.3 125.9h.9M398.9 121.2h.9M385.9 123.0h.9M402.7 123.3h.9M391.7 121.8h.9M393.3 126.6h.9M389.1 122.0h.9M407.5 119.5h.9M381.9 127.2h.9M379.1 119.3h.9M393.4 128.1h.9M377.0 123.1h.9M383.3 124.8h.9M385.2 124.9h.9M385.8 127.1h.9M399.2 122.2h.9M388.6 122.6h.9M394.8 128.8h.9M377.6 123.1h.9M409.1 117.6h.9M385.9 127.8h.9M397.1 123.0h.9M392.2 123.4h.9M384.8 130.1h.9M389.9 122.9h.9M389.2 124.6h.9M393.5 128.9h.9M388.9 126.0h.9M386.0 121.2h.9M408.0 121.9h.9M406.2 116.9h.9M406.0 118.6h.9M388.3 124.2h.9M389.2 123.8h.9M382.0 127.6h.9M386.1 118.9h.9M397.2 126.1h.9M382.5 117.7h.9M398.8 124.4h.9M387.3 120.7h.9M393.0 120.3h.9M395.0 125.2h.9M390.5 115.7h.9M394.1 127.0h.9M378.3 126.3h.9M386.8 124.8h.9M378.8 127.4h.9M389.1 123.4h.9M391.9 118.9h.9M395.4 123.7h.9M380.2 124.8h.9M388.5 122.4h.9M383.9 123.3h.9M395.3 124.2h.9M392.6 125.1h.9M396.1 123.2h.9M389.1 128.4h.9M374.7 124.5h.9M382.2 125.0h.9M392.3 125.8h.9M379.7 127.1h.9M398.7 124.7h.9M398.3 121.7h.9M400.5 126.0h.9M379.8 120.9h.9M389.2 128.1h.9M388.4 121.8h.9M386.1 120.9h.9M389.9 118.7h.9M388.1 120.6h.9M378.4 119.8h.9M406.6 119.7h.9M381.2 123.1h.9M394.8 125.9h.9M385.5 123.0h.9M402.5 120.6h.9M395.4 119.5h.9M387.8 123.1h.9M397.5 115.2h.9M390.1 127.5h.9M374.9 128.5h.9M394.7 122.9h.9M402.5 121.2h.9M399.7 130.2h.9M387.8 124.8h.9M384.6 124.9h.9M393.7 121.7h.9M388.7 125.5h.9M376.7 124.2h.9M393.8 122.4h.9M388.0 126.8h.9M379.2 126.1h.9M380.9 128.5h.9M399.4 120.2h.9M396.9 127.6h.9M377.1 122.3h.9M388.2 128.3h.9M382.4 129.3h.9M399.3 123.3h.9M386.3 125.0h.9M393.3 126.4h.9M375.1 121.3h.9M397.9 123.2h.9M395.4 118.9h.9M389.1 126.2h.9M377.6 128.4h.9M387.9 122.2h.9M378.7 128.6h.9M390.3 121.2h.9M383.4 120.1h.9M400.5 121.8h.9M406.1 122.1h.9M379.9 122.7h.9M387.7 127.4h.9M395.4 117.4h.9M374.7 122.9h.9M398.5 124.7h.9M376.9 121.2h.9M375.0 126.5h.9M408.5 125.0h.9M397.9 120.7h.9M377.0 125.4h.9M389.9 119.2h.9M380.9 122.9h.9M388.5 126.3h.9M377.7 120.6h.9M399.0 126.9h.9M393.0 120.8h.9M382.4 119.4h.9M397.7 128.7h.9M403.5 121.6h.9M401.4 121.3h.9M389.3 121.2h.9M393.5 124.7h.9M389.7 113.4h.9M393.2 128.3h.9M398.3 118.1h.9M389.1 122.0h.9M378.3 120.5h.9M377.7 120.3h.9M393.2 115.6h.9M405.7 129.8h.9M390.5 128.1h.9M403.4 121.1h.9M384.7 128.2h.9M376.8 117.7h.9M386.8 124.1h.9M383.7 126.7h.9M382.0 126.4h.9M397.3 124.6h.9M380.6 122.1h.9M379.4 117.0h.9M378.9 129.4h.9M385.2 128.4h.9M390.3 121.5h.9M377.2 122.1h.9M389.1 120.2h.9M381.6 118.6h.9M402.5 116.4h.9M393.4 118.1h.9M381.1 125.8h.9M381.0 116.2h.9M376.1 116.5h.9M400.2 124.9h.9M386.4 119.7h.9M392.8 122.3h.9M383.2 124.9h.9M378.0 116.6h.9M384.6 128.1h.9M379.8 113.2h.9M396.1 118.5h.9M413.3 125.4h.9M398.8 118.6h.9M387.1 124.7h.9M390.1 126.1h.9M402.9 114.3h.9M382.2 118.0h.9M377.2 121.3h.9M401.1 130.2h.9M393.4 121.5h.9M406.0 126.9h.9M401.5 124.2h.9M394.8 127.4h.9M378.2 115.4h.9M388.8 118.8h.9M397.8 118.4h.9M393.2 117.3h.9M408.4 124.8h.9M376.1 123.6h.9M389.6 111.7h.9M376.9 125.2h.9M379.6 121.8h.9M403.0 129.5h.9M390.0 125.7h.9M404.6 125.4h.9M375.6 119.8h.9M388.7 123.3h.9M387.3 127.3h.9M385.8 124.7h.9M395.6 121.2h.9M385.6 122.1h.9M376.6 119.6h.9M392.8 124.1h.9M395.7 128.1h.9M400.8 124.2h.9M394.2 122.7h.9M377.9 123.2h.9M392.8 124.9h.9M381.8 120.2h.9M382.0 121.6h.9M385.2 126.1h.9M387.0 113.0h.9M395.6 121.3h.9M398.3 122.6h.9M387.4 116.7h.9M402.9 121.3h.9M398.4 125.5h.9M407.4 124.5h.9M388.6 121.2h.9M381.1 128.4h.9M400.5 125.0h.9M411.5 125.5h.9M396.8 120.1h.9M395.3 123.3h.9M403.0 123.4h.9M399.9 117.9h.9M388.1 125.5h.9M396.5 119.2h.9M380.3 121.3h.9M383.5 120.8h.9M390.4 117.0h.9M392.4 119.0h.9M382.9 120.5h.9M396.4 124.4h.9M382.9 125.4h.9M378.1 124.7h.9M390.2 123.9h.9M375.4 125.3h.9M394.0 125.5h.9M383.6 128.5h.9M406.7 129.4h.9M380.7 115.3h.9M379.7 120.4h.9M382.1 123.0h.9M391.5 122.1h.9M378.1 122.1h.9M393.2 118.9h.9M391.1 120.8h.9M385.0 120.6h.9M392.8 120.9h.9M379.4 120.6h.9M383.4 121.5h.9M385.4 127.3h.9M378.2 118.2h.9M385.0 117.2h.9M391.8 121.5h.9M392.6 126.1h.9M396.2 122.4h.9M393.5 120.9h.9M390.2 127.7h.9M405.6 125.6h.9M383.6 121.0h.9M376.7 127.3h.9M400.7 120.0h.9M383.9 122.8h.9M393.6 120.4h.9M394.2 125.4h.9M402.3 120.4h.9M402.6 121.5h.9M388.6 129.8h.9M383.4 118.2h.9M395.3 122.1h.9M381.5 127.4h.9M387.6 119.8h.9M389.4 117.0h.9M399.6 118.8h.9M385.9 123.6h.9M390.7 124.7h.9M386.8 121.5h.9M381.7 113.1h.9M391.9 127.6h.9M376.1 129.7h.9M383.2 121.9h.9M390.1 122.9h.9M394.8 118.5h.9M389.4 118.0h.9M411.8 116.2h.9M402.1 129.4h.9M386.0 122.8h.9M386.9 125.9h.9M394.1 125.8h.9M396.0 125.2h.9M379.6 126.5h.9M382.5 118.5h.9M391.9 122.6h.9M388.4 125.7h.9M375.4 122.5h.9M382.1 123.2h.9M399.5 119.1h.9M384.5 121.7h.9M391.7 116.0h.9M394.8 120.7h.9M402.3 129.3h.9M385.1 120.6h.9M383.9 120.2h.9M375.8 119.7h.9M389.7 124.6h.9M392.6 117.5h.9M396.3 121.9h.9M394.5 122.5h.9M386.1 120.8h.9M374.6 121.6h.9M400.5 129.4h.9M395.4 120.9h.9M389.8 124.7h.9M382.4 121.8h.9M390.5 119.1h.9M385.7 118.3h.9M381.9 121.1h.9M392.1 126.2h.9M381.3 124.1h.9M403.0 113.2h.9M386.9 116.5h.9M400.6 125.9h.9M393.2 125.2h.9M385.5 122.8h.9M411.9 122.4h.9M401.3 114.0h.9M405.0 124.0h.9M397.1 127.6h.9M377.6 122.1h.9M394.9 123.2h.9M387.8 122.1h.9M391.6 121.1h.9M401.9 115.4h.9M381.0 126.2h.9M398.7 117.9h.9M397.3 121.8h.9M402.5 128.3h.9M379.7 122.2h.9M390.2 117.8h.9M393.1 124.5h.9M384.2 130.1h.9M374.5 126.2h.9M380.2 118.9h.9M384.6 127.4h.9M393.0 123.4h.9M397.6 123.4h.9M384.7 125.1h.9M381.2 126.0h.9M382.4 127.0h.9M386.1 123.4h.9M411.7 126.8h.9M398.0 121.8h.9M385.2 127.4h.9M397.0 125.6h.9M399.7 113.3h.9M389.3 129.0h.9M395.0 129.2h.9M379.0 126.1h.9M380.5 116.1h.9M406.0 127.0h.9M403.9 120.4h.9M387.7 120.3h.9M401.0 121.0h.9M382.6 121.8h.9M383.5 120.5h.9M406.8 118.3h.9M379.6 117.2h.9M400.1 119.4h.9M397.2 116.7h.9M394.7 121.8h.9M403.3 117.5h.9M398.1 116.4h.9M394.1 115.4h.9M376.2 129.2h.9M389.5 120.6h.9M384.1 120.3h.9M389.0 118.0h.9M384.5 118.6h.9M403.9 118.2h.9M402.1 128.8h.9M385.3 123.1h.9M382.8 124.6h.9M383.8 123.7h.9M394.5 125.9h.9M399.5 123.7h.9M394.2 116.0h.9M384.5 114.7h.9M397.4 123.6h.9M375.3 120.6h.9M383.0 125.4h.9M376.5 127.4h.9M387.1 119.7h.9M398.3 123.9h.9M398.8 120.6h.9M384.5 118.1h.9M384.0 122.1h.9M390.2 119.9h.9M383.1 110.9h.9M404.1 127.9h.9M393.6 124.4h.9M375.6 117.4h.9M384.5 121.1h.9M392.3 120.6h.9M382.6 125.7h.9M386.7 126.9h.9M395.1 121.0h.9M391.0 123.9h.9M388.7 117.2h.9M381.7 123.5h.9M385.2 113.5h.9M396.2 123.5h.9M385.5 119.2h.9M380.6 123.6h.9M402.1 129.3h.9M388.5 124.0h.9M390.5 127.3h.9M399.0 127.6h.9M388.0 128.5h.9M392.9 127.4h.9M380.5 128.1h.9M386.0 122.8h.9M387.6 121.3h.9M398.7 121.5h.9M381.2 127.2h.9M376.9 123.3h.9M380.2 122.9h.9M389.9 118.7h.9M395.7 120.0h.9M395.9 124.9h.9M376.1 115.7h.9M381.0 117.2h.9M380.4 120.6h.9M391.5 114.7h.9M407.7 121.1h.9M378.0 119.5h.9M378.0 128.8h.9M379.2 111.6h.9M380.2 126.0h.9M376.6 123.1h.9M401.6 127.5h.9M376.4 127.2h.9M388.2 121.7h.9M408.2 119.9h.9M395.1 121.4h.9M380.9 116.6h.9M393.1 124.7h.9M405.2 119.3h.9M401.2 121.0h.9M375.2 124.6h.9M397.1 122.1h.9M403.9 124.6h.9M399.3 121.0h.9M408.3 126.5h.9M414.7 126.7h.9M406.0 124.7h.9M400.5 126.1h.9M414.2 113.3h.9M399.2 121.2h.9M399.2 121.4h.9M399.8 120.9h.9M407.2 128.1h.9M406.7 119.2h.9M399.8 127.7h.9M403.2 117.1h.9M406.6 119.7h.9M411.3 119.7h.9M401.9 128.6h.9M407.4 122.2h.9M401.5 118.3h.9M408.1 122.8h.9M402.6 123.4h.9M410.7 130.0h.9M396.8 122.7h.9M411.4 121.0h.9M414.6 125.1h.9M408.3 121.7h.9M406.0 117.6h.9M398.4 119.5h.9M402.4 118.5h.9M406.4 116.0h.9M406.6 124.7h.9M402.2 124.3h.9M408.3 127.5h.9M396.5 123.4h.9M409.9 123.4h.9M405.6 127.9h.9M402.8 126.7h.9M425.3 117.7h.9M405.3 111.3h.9M399.3 120.9h.9M401.5 124.5h.9M409.8 116.1h.9M397.7 119.4h.9M399.0 124.3h.9M399.5 125.6h.9M407.7 124.4h.9M398.4 126.0h.9M407.7 129.4h.9M402.9 128.7h.9M396.6 119.3h.9M399.7 128.1h.9M414.8 121.5h.9M401.7 124.1h.9M400.8 115.6h.9M408.7 117.6h.9M399.9 123.8h.9M398.8 128.0h.9M407.4 115.6h.9M399.1 122.8h.9M408.1 127.8h.9M398.8 113.7h.9M398.7 126.6h.9M403.5 119.1h.9M398.6 122.8h.9M401.4 118.9h.9M397.7 121.3h.9M398.0 118.7h.9M400.0 129.1h.9M409.9 122.9h.9M400.0 123.7h.9M400.1 117.0h.9M422.3 119.2h.9M405.5 125.1h.9M409.6 117.2h.9M418.7 116.9h.9M396.9 121.7h.9M416.2 128.6h.9M404.3 126.6h.9M397.7 115.6h.9M401.4 128.9h.9M403.5 128.7h.9M415.9 127.0h.9M405.2 114.3h.9M404.4 125.3h.9M403.6 125.0h.9M399.8 116.7h.9M401.2 123.2h.9M397.1 115.8h.9M404.4 122.7h.9M400.4 125.4h.9M410.9 125.8h.9M400.9 121.4h.9M410.3 125.5h.9M396.6 119.4h.9M404.2 128.1h.9M402.4 123.0h.9M404.6 114.3h.9M399.9 125.1h.9M399.0 125.7h.9M406.5 114.8h.9M405.4 126.4h.9M406.2 117.9h.9M398.8 122.5h.9M417.7 115.3h.9M407.0 127.2h.9M399.8 116.6h.9M405.0 119.5h.9M401.2 128.8h.9M403.3 119.4h.9M397.7 123.0h.9M414.4 127.3h.9M402.9 124.4h.9M398.5 122.9h.9M405.9 126.8h.9M399.7 128.2h.9M406.4 126.9h.9M411.4 118.5h.9M405.3 128.1h.9M401.7 127.9h.9M398.7 122.1h.9M404.1 124.0h.9M397.8 126.5h.9M410.6 118.2h.9M411.0 126.6h.9M411.9 121.3h.9M400.8 120.9h.9M396.7 122.9h.9M418.2 113.8h.9M402.7 115.7h.9M417.1 106.6h.9M402.7 122.9h.9M397.5 123.9h.9M396.6 121.6h.9M400.6 124.1h.9M402.1 121.1h.9M403.2 127.7h.9M401.8 125.0h.9M400.9 122.8h.9M412.3 121.8h.9M406.5 122.9h.9M399.4 123.0h.9M398.0 122.6h.9M417.2 117.8h.9M402.5 118.3h.9M406.6 123.2h.9M400.0 128.0h.9M397.3 129.9h.9M409.3 126.9h.9M402.5 120.8h.9M410.0 123.4h.9M402.2 120.6h.9M400.7 129.5h.9M403.0 120.3h.9M402.4 121.6h.9M411.7 122.4h.9M413.0 119.2h.9M411.7 128.8h.9M401.4 120.1h.9M417.7 124.4h.9M407.6 127.1h.9M400.4 121.6h.9M401.3 123.0h.9M403.7 128.0h.9M416.6 112.2h.9M396.6 127.0h.9M396.6 129.8h.9M406.5 124.3h.9M402.8 129.6h.9M403.2 119.8h.9M398.8 124.8h.9M402.0 122.0h.9M403.5 118.2h.9M409.9 122.0h.9M398.2 127.1h.9M400.8 116.1h.9M409.1 129.4h.9M403.2 128.3h.9M406.0 124.0h.9M401.4 117.2h.9M397.0 121.9h.9M407.8 119.8h.9M409.6 126.7h.9M397.3 122.1h.9M404.0 125.4h.9M417.6 123.4h.9M410.5 115.5h.9M413.8 121.1h.9M402.1 128.4h.9M398.1 120.2h.9M410.0 118.3h.9M397.2 111.8h.9M407.0 113.2h.9M410.2 120.0h.9M401.2 121.1h.9M401.0 127.7h.9M398.4 124.9h.9M408.5 118.2h.9M396.7 115.2h.9M400.8 124.9h.9M426.9 124.7h.9M405.7 118.0h.9M397.3 122.8h.9M412.3 125.7h.9M410.6 117.9h.9M398.0 126.7h.9M402.1 129.2h.9M405.5 121.8h.9M399.8 121.6h.9M403.8 128.6h.9M403.7 126.3h.9M399.8 120.0h.9M397.5 129.4h.9M400.0 118.2h.9M404.9 121.2h.9M396.9 123.9h.9M399.4 122.5h.9M399.9 115.0h.9M399.8 130.2h.9M399.6 120.4h.9M408.8 126.0h.9M399.2 106.3h.9M405.6 127.4h.9M405.3 125.5h.9M404.9 123.0h.9M413.0 130.1h.9M414.6 118.3h.9M396.8 129.3h.9M397.0 129.0h.9M397.3 128.0h.9M398.1 119.2h.9M400.6 117.5h.9M410.0 120.0h.9M398.2 121.0h.9M398.3 117.7h.9M407.0 124.9h.9M398.1 118.2h.9M398.0 121.2h.9M398.9 115.2h.9M402.9 124.1h.9M413.2 129.7h.9M410.1 119.1h.9M401.2 125.6h.9M398.1 122.9h.9M409.0 123.4h.9M408.1 115.4h.9M405.7 129.1h.9M399.0 122.1h.9M397.1 126.3h.9M401.3 123.1h.9M405.1 120.9h.9M397.5 124.0h.9M403.7 127.3h.9M403.8 129.3h.9M418.0 121.6h.9M418.1 112.4h.9M408.1 128.5h.9M397.2 122.6h.9M410.8 120.6h.9M403.4 122.1h.9M398.9 126.8h.9M399.0 125.8h.9M402.2 126.1h.9M412.6 122.0h.9M410.1 119.9h.9M399.3 128.0h.9M404.1 125.6h.9M406.6 121.4h.9M408.5 116.1h.9M415.4 113.9h.9M402.8 120.7h.9M410.5 113.7h.9M399.6 110.5h.9M418.9 127.9h.9M400.1 120.4h.9M397.0 111.0h.9M417.2 115.9h.9M402.1 116.4h.9M410.3 110.2h.9M402.4 116.9h.9M399.3 119.4h.9M398.3 126.3h.9M405.9 114.4h.9M398.4 128.7h.9M400.1 121.5h.9M411.3 116.8h.9M408.8 120.8h.9M397.3 120.4h.9M399.3 123.1h.9M407.3 115.9h.9M397.6 119.2h.9M401.8 121.0h.9M399.5 119.9h.9M400.6 116.1h.9M406.0 124.7h.9M405.5 117.7h.9M405.7 116.9h.9M413.8 118.3h.9M409.3 118.5h.9M401.1 125.6h.9M418.4 117.7h.9M399.3 114.1h.9M411.0 129.1h.9M399.8 118.7h.9M398.1 125.3h.9M419.3 123.6h.9M401.7 117.5h.9M408.6 120.2h.9M401.7 128.7h.9M402.8 116.2h.9M399.6 127.2h.9M401.7 116.9h.9M397.3 127.7h.9M400.8 113.0h.9M397.1 121.4h.9M410.5 128.0h.9M409.2 115.3h.9M397.9 117.3h.9M414.3 113.4h.9M409.9 125.9h.9M408.1 122.3h.9M402.2 118.5h.9M407.2 121.2h.9M409.1 114.9h.9M415.3 119.3h.9M401.8 128.5h.9M407.6 124.0h.9M399.3 125.8h.9M401.9 121.0h.9M405.5 122.8h.9M404.5 126.6h.9M398.9 122.8h.9M397.7 124.2h.9M400.1 128.8h.9M407.3 121.0h.9M405.3 129.4h.9M414.5 120.4h.9M413.3 129.0h.9M405.5 122.7h.9M399.8 124.9h.9M405.0 127.5h.9M398.6 121.6h.9M403.0 121.5h.9M410.5 127.0h.9M407.3 124.1h.9M423.9 118.7h.9M416.8 121.5h.9M411.4 115.4h.9M402.1 123.2h.9M397.3 126.2h.9M406.2 126.3h.9M400.0 114.5h.9M397.4 119.6h.9M398.1 124.7h.9M404.8 123.6h.9M397.1 113.5h.9M400.1 127.7h.9M416.3 123.3h.9M409.0 117.3h.9M400.1 115.0h.9M411.8 125.1h.9M398.4 123.7h.9M397.4 128.6h.9M398.1 114.3h.9M408.6 124.6h.9M398.7 121.0h.9M401.7 119.9h.9M398.7 123.2h.9M397.1 115.7h.9M401.8 125.1h.9M403.3 127.8h.9M403.2 127.4h.9M398.0 124.4h.9M397.2 124.2h.9M405.8 127.4h.9M397.8 117.0h.9M415.5 116.9h.9M404.2 123.7h.9M406.6 128.2h.9M402.6 116.3h.9M397.7 117.6h.9M410.7 120.3h.9M399.7 120.8h.9M422.2 118.5h.9M408.5 124.9h.9M398.1 126.2h.9M420.9 118.9h.9M399.2 126.8h.9M402.3 126.2h.9M410.4 125.9h.9M387.4 102.7h.9M381.4 110.6h.9M384.4 86.1h.9M386.2 99.5h.9M406.0 128.0h.9M380.6 102.1h.9M364.8 114.9h.9M416.0 98.5h.9M370.4 77.3h.9M384.5 83.9h.9M423.2 94.8h.9M428.2 118.6h.9M395.7 75.5h.9M411.8 90.7h.9M435.0 106.9h.9M407.2 96.1h.9M355.5 77.0h.9M386.3 82.2h.9M350.1 118.7h.9M387.4 109.9h.9M433.8 111.8h.9M383.4 89.5h.9M375.3 91.7h.9M357.2 75.6h.9M377.4 89.7h.9"/>
<g clip-path="url(#cp)" filter="url(#bl)"><ellipse cx="372" cy="96.5" rx="8.5" ry="4.2" fill="#272727"/><ellipse cx="390" cy="124.5" rx="8" ry="3.4" fill="#222"/></g>
<g stroke="#222" stroke-width="0.6">
<line x1="345.6" y1="123.7" x2="347.6" y2="123.7"/>
<line x1="354.6" y1="130.8" x2="354.6" y2="132.2"/>
<line x1="345.6" y1="119.5" x2="347.6" y2="119.5"/>
<line x1="358.6" y1="130.8" x2="358.6" y2="132.2"/>
<line x1="345.6" y1="116.6" x2="347.6" y2="116.6"/>
<line x1="361.5" y1="130.8" x2="361.5" y2="132.2"/>
<line x1="345.6" y1="114.3" x2="347.6" y2="114.3"/>
<line x1="363.7" y1="130.8" x2="363.7" y2="132.2"/>
<line x1="345.6" y1="112.4" x2="347.6" y2="112.4"/>
<line x1="365.6" y1="130.8" x2="365.6" y2="132.2"/>
<line x1="345.6" y1="110.8" x2="347.6" y2="110.8"/>
<line x1="367.1" y1="130.8" x2="367.1" y2="132.2"/>
<line x1="345.6" y1="109.5" x2="347.6" y2="109.5"/>
<line x1="368.5" y1="130.8" x2="368.5" y2="132.2"/>
<line x1="345.6" y1="108.3" x2="347.6" y2="108.3"/>
<line x1="369.6" y1="130.8" x2="369.6" y2="132.2"/>
<line x1="345.6" y1="100.1" x2="347.6" y2="100.1"/>
<line x1="377.7" y1="130.8" x2="377.7" y2="132.2"/>
<line x1="345.6" y1="95.9" x2="347.6" y2="95.9"/>
<line x1="381.7" y1="130.8" x2="381.7" y2="132.2"/>
<line x1="345.6" y1="93.0" x2="347.6" y2="93.0"/>
<line x1="384.6" y1="130.8" x2="384.6" y2="132.2"/>
<line x1="345.6" y1="90.7" x2="347.6" y2="90.7"/>
<line x1="386.8" y1="130.8" x2="386.8" y2="132.2"/>
<line x1="345.6" y1="88.8" x2="347.6" y2="88.8"/>
<line x1="388.7" y1="130.8" x2="388.7" y2="132.2"/>
<line x1="345.6" y1="87.2" x2="347.6" y2="87.2"/>
<line x1="390.2" y1="130.8" x2="390.2" y2="132.2"/>
<line x1="345.6" y1="85.8" x2="347.6" y2="85.8"/>
<line x1="391.6" y1="130.8" x2="391.6" y2="132.2"/>
<line x1="345.6" y1="84.6" x2="347.6" y2="84.6"/>
<line x1="392.7" y1="130.8" x2="392.7" y2="132.2"/>
<line x1="345.6" y1="76.4" x2="347.6" y2="76.4"/>
<line x1="400.8" y1="130.8" x2="400.8" y2="132.2"/>
<line x1="345.6" y1="72.3" x2="347.6" y2="72.3"/>
<line x1="404.8" y1="130.8" x2="404.8" y2="132.2"/>
<line x1="345.6" y1="69.3" x2="347.6" y2="69.3"/>
<line x1="407.7" y1="130.8" x2="407.7" y2="132.2"/>
<line x1="345.6" y1="67.0" x2="347.6" y2="67.0"/>
<line x1="409.9" y1="130.8" x2="409.9" y2="132.2"/>
<line x1="345.6" y1="65.2" x2="347.6" y2="65.2"/>
<line x1="411.8" y1="130.8" x2="411.8" y2="132.2"/>
<line x1="345.6" y1="63.6" x2="347.6" y2="63.6"/>
<line x1="413.3" y1="130.8" x2="413.3" y2="132.2"/>
<line x1="345.6" y1="62.2" x2="347.6" y2="62.2"/>
<line x1="414.7" y1="130.8" x2="414.7" y2="132.2"/>
<line x1="345.6" y1="61.0" x2="347.6" y2="61.0"/>
<line x1="415.8" y1="130.8" x2="415.8" y2="132.2"/>
<line x1="345.6" y1="52.8" x2="347.6" y2="52.8"/>
<line x1="423.9" y1="130.8" x2="423.9" y2="132.2"/>
<line x1="345.6" y1="48.7" x2="347.6" y2="48.7"/>
<line x1="427.9" y1="130.8" x2="427.9" y2="132.2"/>
<line x1="345.6" y1="45.7" x2="347.6" y2="45.7"/>
<line x1="430.8" y1="130.8" x2="430.8" y2="132.2"/>
<line x1="345.6" y1="43.4" x2="347.6" y2="43.4"/>
<line x1="433.0" y1="130.8" x2="433.0" y2="132.2"/>
<line x1="345.6" y1="41.5" x2="347.6" y2="41.5"/>
<line x1="434.9" y1="130.8" x2="434.9" y2="132.2"/>
<line x1="345.6" y1="40.0" x2="347.6" y2="40.0"/>
<line x1="436.4" y1="130.8" x2="436.4" y2="132.2"/>
<line x1="345.6" y1="38.6" x2="347.6" y2="38.6"/>
<line x1="437.8" y1="130.8" x2="437.8" y2="132.2"/>
<line x1="345.6" y1="37.4" x2="347.6" y2="37.4"/>
<line x1="438.9" y1="130.8" x2="438.9" y2="132.2"/>
<line x1="344.6" y1="130.8" x2="347.6" y2="130.8"/>
<line x1="347.6" y1="130.8" x2="347.6" y2="133"/>
<line x1="344.6" y1="107.2" x2="347.6" y2="107.2"/>
<line x1="370.7" y1="130.8" x2="370.7" y2="133"/>
<line x1="344.6" y1="83.6" x2="347.6" y2="83.6"/>
<line x1="393.8" y1="130.8" x2="393.8" y2="133"/>
<line x1="344.6" y1="59.9" x2="347.6" y2="59.9"/>
<line x1="416.9" y1="130.8" x2="416.9" y2="133"/>
<line x1="344.6" y1="36.3" x2="347.6" y2="36.3"/>
<line x1="440.0" y1="130.8" x2="440.0" y2="133"/>
</g>
</svg></body></html>
